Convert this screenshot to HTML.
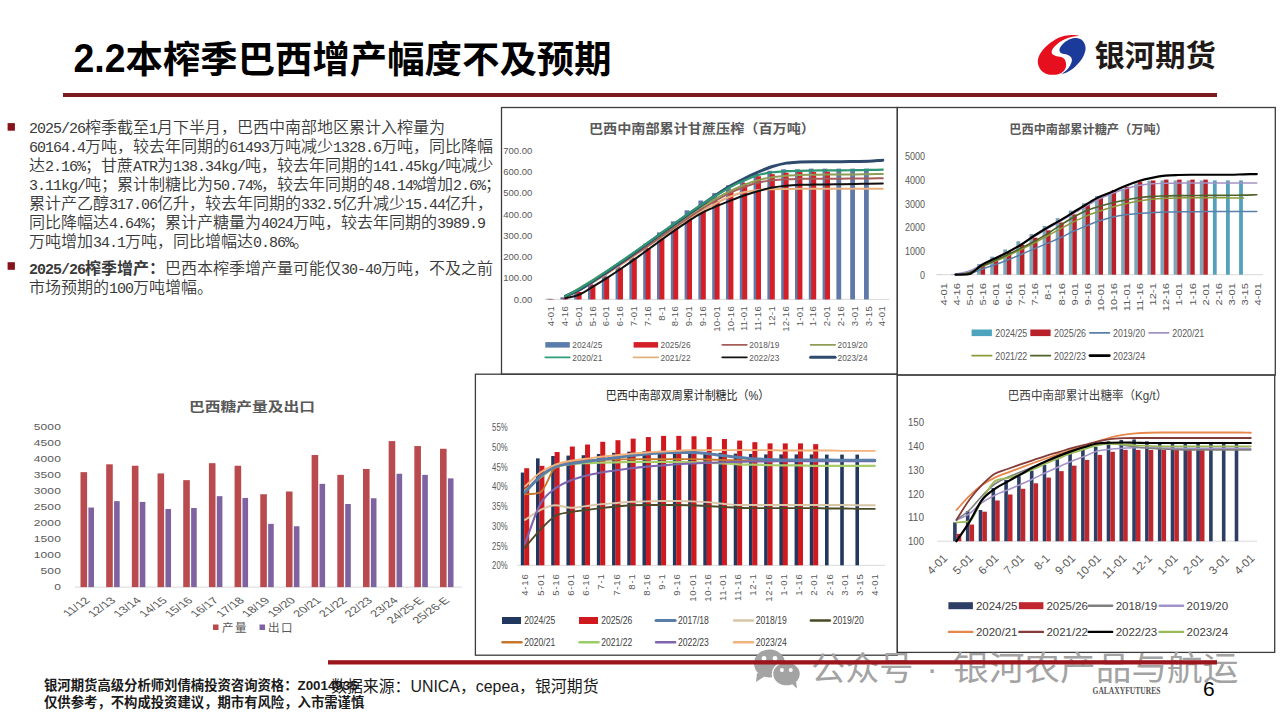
<!DOCTYPE html>
<html><head><meta charset="utf-8"><title>slide</title>
<style>
html,body{margin:0;padding:0;background:#fff;}
body{width:1280px;height:720px;position:relative;overflow:hidden;font-family:"Liberation Sans","Noto Sans CJK SC",sans-serif;}
.full{position:absolute;left:0;top:0;}
h1{position:absolute;left:73.5px;top:34px;margin:0;font-size:37.4px;font-weight:bold;color:#000;font-family:"Liberation Sans","Noto Sans CJK SC",sans-serif;letter-spacing:0px;white-space:nowrap;line-height:52px;}
.txt{position:absolute;left:29px;width:480px;font-size:16px;line-height:19.1px;color:#3a3a3a;font-family:"Liberation Sans","Noto Sans CJK SC",sans-serif;font-weight:350;white-space:nowrap;}
.txt b{font-weight:700;}
.txt .m{font-family:"Liberation Mono",monospace;font-size:15px;letter-spacing:-1px;line-height:19px;}
.txt div{height:19.0px;line-height:19.0px;}
.foot{position:absolute;left:44px;font-size:13.35px;font-weight:bold;color:#1a1a1a;font-family:"Liberation Sans","Noto Sans CJK SC",sans-serif;white-space:nowrap;}
.src{position:absolute;left:331px;top:674.4px;font-size:15.9px;color:#1a1a1a;font-family:"Liberation Sans","Noto Sans CJK SC",sans-serif;white-space:nowrap;}
</style></head><body>
<svg class="full" width="1280" height="720" viewBox="0 0 1280 720">
<rect x="63" y="93" width="1154" height="4" fill="#7d1a1f"/>
<g transform="translate(1030,30)"><path d="M49.90,5.80 C49.90,5.80 45.93,4.90 43.40,4.90 C40.87,4.90 37.72,5.05 34.70,5.80 C31.68,6.55 28.32,7.72 25.30,9.40 C22.28,11.08 19.13,13.50 16.60,15.90 C14.07,18.30 11.57,21.15 10.10,23.80 C8.63,26.45 7.80,29.27 7.80,31.80 C7.80,34.33 8.75,37.02 10.10,39.00 C11.45,40.98 13.62,42.73 15.90,43.70 C18.18,44.67 21.40,44.85 23.80,44.80 C26.20,44.75 28.48,44.25 30.30,43.40 C32.12,42.55 33.73,41.15 34.70,39.70 C35.67,38.25 36.10,36.38 36.10,34.70 C36.10,33.02 35.53,30.87 34.70,29.60 C33.87,28.33 32.67,27.75 31.10,27.10 C29.53,26.45 26.82,26.30 25.30,25.70 C23.78,25.10 22.48,24.53 22.00,23.50 C21.52,22.47 21.62,21.00 22.40,19.50 C23.18,18.00 24.90,16.07 26.70,14.50 C28.50,12.93 30.78,11.33 33.20,10.10 C35.62,8.87 38.42,7.82 41.20,7.10 C43.98,6.38 49.90,5.80 49.90,5.80Z" fill="#e60f1d"/><path d="M46.20,8.10 C48.23,8.40 51.13,9.13 52.70,10.80 C54.27,12.47 55.47,15.57 55.60,18.10 C55.73,20.63 54.58,23.60 53.50,26.00 C52.42,28.40 50.78,30.45 49.10,32.50 C47.42,34.55 45.32,36.73 43.40,38.30 C41.48,39.87 39.65,40.92 37.60,41.90 C35.55,42.88 31.10,44.20 31.10,44.20 C31.10,44.20 34.60,41.97 36.10,40.50 C37.60,39.03 39.13,37.10 40.10,35.40 C41.07,33.70 41.83,31.75 41.90,30.30 C41.97,28.85 41.35,27.65 40.50,26.70 C39.65,25.75 38.25,25.13 36.80,24.60 C35.35,24.07 33.00,24.10 31.80,23.50 C30.60,22.90 29.85,22.03 29.60,21.00 C29.35,19.97 29.45,18.75 30.30,17.30 C31.15,15.85 33.00,13.68 34.70,12.30 C36.40,10.92 38.58,9.70 40.50,9.00 C42.42,8.30 44.17,7.80 46.20,8.10Z" fill="#1c3a9a"/></g>
<text x="1094.50" y="65.60" font-size="29.6" fill="#1f1a17" text-anchor="start" font-weight="bold" font-family='"Liberation Sans","Noto Sans CJK SC",sans-serif' textLength="121.5" lengthAdjust="spacingAndGlyphs">银河期货</text>
<rect x="7.6" y="123.1" width="7.3" height="7.6" fill="#86131a"/>
<rect x="7.6" y="262.2" width="7.3" height="7.6" fill="#86131a"/>
<text x="589.00" y="133.00" font-size="13" fill="#595959" text-anchor="start" font-weight="bold" font-family='"Liberation Sans","Noto Sans CJK SC",sans-serif' textLength="226" lengthAdjust="spacingAndGlyphs">巴西中南部累计甘蔗压榨（百万吨）</text>
<text x="532.30" y="302.70" font-size="9.5" fill="#595959" text-anchor="end" font-weight="normal" font-family='"Liberation Sans","Noto Sans CJK SC",sans-serif' >0.00</text>
<text x="532.30" y="281.44" font-size="9.5" fill="#595959" text-anchor="end" font-weight="normal" font-family='"Liberation Sans","Noto Sans CJK SC",sans-serif' >100.00</text>
<text x="532.30" y="260.18" font-size="9.5" fill="#595959" text-anchor="end" font-weight="normal" font-family='"Liberation Sans","Noto Sans CJK SC",sans-serif' >200.00</text>
<text x="532.30" y="238.92" font-size="9.5" fill="#595959" text-anchor="end" font-weight="normal" font-family='"Liberation Sans","Noto Sans CJK SC",sans-serif' >300.00</text>
<text x="532.30" y="217.66" font-size="9.5" fill="#595959" text-anchor="end" font-weight="normal" font-family='"Liberation Sans","Noto Sans CJK SC",sans-serif' >400.00</text>
<text x="532.30" y="196.40" font-size="9.5" fill="#595959" text-anchor="end" font-weight="normal" font-family='"Liberation Sans","Noto Sans CJK SC",sans-serif' >500.00</text>
<text x="532.30" y="175.14" font-size="9.5" fill="#595959" text-anchor="end" font-weight="normal" font-family='"Liberation Sans","Noto Sans CJK SC",sans-serif' >600.00</text>
<text x="532.30" y="153.88" font-size="9.5" fill="#595959" text-anchor="end" font-weight="normal" font-family='"Liberation Sans","Noto Sans CJK SC",sans-serif' >700.00</text>
<line x1="544.7" y1="299.4" x2="889.5" y2="299.4" stroke="#d9d9d9" stroke-width="1"/>
<rect x="546.60" y="298.76" width="4.8" height="0.64" fill="#6179a8"/>
<rect x="560.40" y="297.27" width="4.8" height="2.13" fill="#6179a8"/>
<rect x="574.20" y="290.47" width="4.8" height="8.93" fill="#6179a8"/>
<rect x="588.00" y="282.39" width="4.8" height="17.01" fill="#6179a8"/>
<rect x="601.80" y="273.46" width="4.8" height="25.94" fill="#6179a8"/>
<rect x="615.60" y="264.32" width="4.8" height="35.08" fill="#6179a8"/>
<rect x="629.40" y="254.33" width="4.8" height="45.07" fill="#6179a8"/>
<rect x="643.20" y="243.70" width="4.8" height="55.70" fill="#6179a8"/>
<rect x="657.00" y="232.43" width="4.8" height="66.97" fill="#6179a8"/>
<rect x="670.80" y="221.38" width="4.8" height="78.02" fill="#6179a8"/>
<rect x="684.60" y="210.32" width="4.8" height="89.08" fill="#6179a8"/>
<rect x="698.40" y="200.54" width="4.8" height="98.86" fill="#6179a8"/>
<rect x="712.20" y="193.10" width="4.8" height="106.30" fill="#6179a8"/>
<rect x="726.00" y="185.23" width="4.8" height="114.17" fill="#6179a8"/>
<rect x="739.80" y="179.07" width="4.8" height="120.33" fill="#6179a8"/>
<rect x="753.60" y="173.97" width="4.8" height="125.43" fill="#6179a8"/>
<rect x="767.40" y="170.78" width="4.8" height="128.62" fill="#6179a8"/>
<rect x="781.20" y="169.29" width="4.8" height="130.11" fill="#6179a8"/>
<rect x="795.00" y="169.29" width="4.8" height="130.11" fill="#6179a8"/>
<rect x="808.80" y="168.65" width="4.8" height="130.75" fill="#6179a8"/>
<rect x="822.60" y="168.65" width="4.8" height="130.75" fill="#6179a8"/>
<rect x="836.40" y="168.65" width="4.8" height="130.75" fill="#6179a8"/>
<rect x="850.20" y="168.65" width="4.8" height="130.75" fill="#6179a8"/>
<rect x="864.00" y="168.65" width="4.8" height="130.75" fill="#6179a8"/>
<rect x="549.10" y="298.97" width="4.9" height="0.43" fill="#d41f26"/>
<rect x="562.90" y="298.34" width="4.9" height="1.06" fill="#d41f26"/>
<rect x="576.70" y="291.96" width="4.9" height="7.44" fill="#d41f26"/>
<rect x="590.50" y="284.73" width="4.9" height="14.67" fill="#d41f26"/>
<rect x="604.30" y="277.08" width="4.9" height="22.32" fill="#d41f26"/>
<rect x="618.10" y="268.15" width="4.9" height="31.25" fill="#d41f26"/>
<rect x="631.90" y="258.37" width="4.9" height="41.03" fill="#d41f26"/>
<rect x="645.70" y="248.16" width="4.9" height="51.24" fill="#d41f26"/>
<rect x="659.50" y="237.75" width="4.9" height="61.65" fill="#d41f26"/>
<rect x="673.30" y="227.12" width="4.9" height="72.28" fill="#d41f26"/>
<rect x="687.10" y="217.12" width="4.9" height="82.28" fill="#d41f26"/>
<rect x="700.90" y="210.32" width="4.9" height="89.08" fill="#d41f26"/>
<rect x="714.70" y="201.18" width="4.9" height="98.22" fill="#d41f26"/>
<rect x="728.50" y="190.76" width="4.9" height="108.64" fill="#d41f26"/>
<rect x="742.30" y="183.11" width="4.9" height="116.29" fill="#d41f26"/>
<rect x="756.10" y="176.30" width="4.9" height="123.10" fill="#d41f26"/>
<rect x="769.90" y="174.18" width="4.9" height="125.22" fill="#d41f26"/>
<rect x="783.70" y="172.69" width="4.9" height="126.71" fill="#d41f26"/>
<rect x="797.50" y="172.05" width="4.9" height="127.35" fill="#d41f26"/>
<rect x="811.30" y="172.05" width="4.9" height="127.35" fill="#d41f26"/>
<rect x="825.10" y="171.63" width="4.9" height="127.77" fill="#d41f26"/>
<path d="M565.40,297.27 C570.00,295.01 574.60,292.95 579.20,290.47 C583.80,287.99 588.40,285.16 593.00,282.39 C597.60,279.63 602.20,276.79 606.80,273.89 C611.40,270.98 616.00,267.97 620.60,264.96 C625.20,261.95 629.80,258.94 634.40,255.82 C639.00,252.70 643.60,249.44 648.20,246.25 C652.80,243.06 657.40,239.87 662.00,236.68 C666.60,233.49 671.20,230.23 675.80,227.12 C680.40,224.00 685.00,220.81 689.60,217.97 C694.20,215.14 698.80,212.66 703.40,210.11 C708.00,207.56 712.60,204.97 717.20,202.67 C721.80,200.36 726.40,198.06 731.00,196.29 C735.60,194.52 740.20,193.10 744.80,192.04 C749.40,190.97 754.00,190.37 758.60,189.91 C763.20,189.45 767.80,189.41 772.40,189.27 C777.00,189.13 781.60,189.13 786.20,189.06 C790.80,188.99 795.40,188.85 800.00,188.85 C804.60,188.85 809.20,188.85 813.80,188.85 C818.40,188.85 823.00,188.85 827.60,188.85 C832.20,188.85 836.80,188.85 841.40,188.85 C846.00,188.85 850.60,188.85 855.20,188.85 C859.80,188.85 864.40,188.85 869.00,188.85 C873.60,188.85 878.20,188.85 882.80,188.85" fill="none" stroke="#e6b07e" stroke-width="2" stroke-linejoin="round" stroke-linecap="round" />
<path d="M565.40,296.85 C570.00,294.51 574.60,292.42 579.20,289.83 C583.80,287.25 588.40,284.16 593.00,281.33 C597.60,278.49 602.20,275.73 606.80,272.82 C611.40,269.92 616.00,266.91 620.60,263.90 C625.20,260.88 629.80,257.80 634.40,254.75 C639.00,251.71 643.60,248.73 648.20,245.61 C652.80,242.49 657.40,239.23 662.00,236.05 C666.60,232.86 671.20,229.67 675.80,226.48 C680.40,223.29 685.00,219.99 689.60,216.91 C694.20,213.83 698.80,210.82 703.40,207.98 C708.00,205.15 712.60,202.49 717.20,199.90 C721.80,197.32 726.40,194.66 731.00,192.46 C735.60,190.27 740.20,188.39 744.80,186.72 C749.40,185.06 754.00,183.53 758.60,182.47 C763.20,181.41 767.80,180.88 772.40,180.34 C777.00,179.81 781.60,179.53 786.20,179.28 C790.80,179.03 795.40,178.96 800.00,178.86 C804.60,178.75 809.20,178.64 813.80,178.64 C818.40,178.64 823.00,178.64 827.60,178.64 C832.20,178.64 836.80,178.64 841.40,178.64 C846.00,178.64 850.60,178.43 855.20,178.43 C859.80,178.43 864.40,178.43 869.00,178.43 C873.60,178.43 878.20,178.29 882.80,178.22" fill="none" stroke="#a65c58" stroke-width="2" stroke-linejoin="round" stroke-linecap="round" />
<path d="M565.40,296.21 C570.00,293.59 574.60,291.07 579.20,288.34 C583.80,285.62 588.40,282.71 593.00,279.84 C597.60,276.97 602.20,274.07 606.80,271.12 C611.40,268.18 616.00,265.21 620.60,262.19 C625.20,259.18 629.80,256.14 634.40,253.05 C639.00,249.97 643.60,246.85 648.20,243.70 C652.80,240.55 657.40,237.32 662.00,234.13 C666.60,230.94 671.20,227.79 675.80,224.56 C680.40,221.34 685.00,217.90 689.60,214.79 C694.20,211.67 698.80,208.69 703.40,205.86 C708.00,203.02 712.60,200.33 717.20,197.78 C721.80,195.23 726.40,192.75 731.00,190.55 C735.60,188.35 740.20,186.37 744.80,184.60 C749.40,182.82 754.00,181.16 758.60,179.92 C763.20,178.68 767.80,177.86 772.40,177.15 C777.00,176.45 781.60,176.02 786.20,175.67 C790.80,175.31 795.40,175.17 800.00,175.03 C804.60,174.89 809.20,174.89 813.80,174.82 C818.40,174.75 823.00,174.60 827.60,174.60 C832.20,174.60 836.80,174.60 841.40,174.60 C846.00,174.60 850.60,174.46 855.20,174.39 C859.80,174.32 864.40,174.25 869.00,174.18 C873.60,174.11 878.20,174.04 882.80,173.97" fill="none" stroke="#8e9d55" stroke-width="2" stroke-linejoin="round" stroke-linecap="round" />
<path d="M565.40,296.21 C570.00,294.08 574.60,292.31 579.20,289.83 C583.80,287.35 588.40,284.27 593.00,281.33 C597.60,278.39 602.20,275.27 606.80,272.19 C611.40,269.10 616.00,266.02 620.60,262.83 C625.20,259.64 629.80,256.35 634.40,253.05 C639.00,249.76 643.60,246.39 648.20,243.06 C652.80,239.73 657.40,236.36 662.00,233.07 C666.60,229.77 671.20,226.58 675.80,223.29 C680.40,219.99 685.00,216.56 689.60,213.30 C694.20,210.04 698.80,206.92 703.40,203.73 C708.00,200.54 712.60,197.17 717.20,194.16 C721.80,191.15 726.40,188.32 731.00,185.66 C735.60,183.00 740.20,180.52 744.80,178.22 C749.40,175.91 754.00,173.79 758.60,171.84 C763.20,169.89 767.80,167.98 772.40,166.52 C777.00,165.07 781.60,163.87 786.20,163.12 C790.80,162.38 795.40,162.31 800.00,162.06 C804.60,161.81 809.20,161.64 813.80,161.64 C818.40,161.64 823.00,161.64 827.60,161.64 C832.20,161.64 836.80,161.64 841.40,161.64 C846.00,161.64 850.60,161.49 855.20,161.42 C859.80,161.36 864.40,161.41 869.00,161.21 C873.60,161.01 878.20,160.50 882.80,160.15" fill="none" stroke="#2e4a6c" stroke-width="3" stroke-linejoin="round" stroke-linecap="round" />
<path d="M565.40,296.21 C570.00,293.73 574.60,291.43 579.20,288.77 C583.80,286.11 588.40,283.21 593.00,280.27 C597.60,277.33 602.20,274.21 606.80,271.12 C611.40,268.04 616.00,264.92 620.60,261.77 C625.20,258.62 629.80,255.43 634.40,252.20 C639.00,248.98 643.60,245.72 648.20,242.42 C652.80,239.13 657.40,235.76 662.00,232.43 C666.60,229.10 671.20,225.73 675.80,222.44 C680.40,219.14 685.00,215.85 689.60,212.66 C694.20,209.47 698.80,206.28 703.40,203.30 C708.00,200.33 712.60,197.56 717.20,194.80 C721.80,192.04 726.40,189.13 731.00,186.72 C735.60,184.31 740.20,182.29 744.80,180.34 C749.40,178.40 754.00,176.38 758.60,175.03 C763.20,173.68 767.80,172.90 772.40,172.27 C777.00,171.63 781.60,171.45 786.20,171.20 C790.80,170.95 795.40,170.88 800.00,170.78 C804.60,170.67 809.20,170.64 813.80,170.56 C818.40,170.49 823.00,170.35 827.60,170.35 C832.20,170.35 836.80,170.35 841.40,170.35 C846.00,170.35 850.60,170.21 855.20,170.14 C859.80,170.07 864.40,170.00 869.00,169.93 C873.60,169.86 878.20,169.78 882.80,169.71" fill="none" stroke="#2f9675" stroke-width="2.2" stroke-linejoin="round" stroke-linecap="round" />
<path d="M565.40,298.34 C570.00,297.13 574.60,296.67 579.20,294.72 C583.80,292.77 588.40,289.41 593.00,286.64 C597.60,283.88 602.20,281.08 606.80,278.14 C611.40,275.20 616.00,272.12 620.60,269.00 C625.20,265.88 629.80,262.69 634.40,259.43 C639.00,256.17 643.60,252.77 648.20,249.44 C652.80,246.11 657.40,242.74 662.00,239.45 C666.60,236.15 671.20,232.86 675.80,229.67 C680.40,226.48 685.00,223.22 689.60,220.31 C694.20,217.41 698.80,214.64 703.40,212.23 C708.00,209.82 712.60,207.84 717.20,205.86 C721.80,203.87 726.40,202.10 731.00,200.33 C735.60,198.56 740.20,196.79 744.80,195.23 C749.40,193.67 754.00,192.25 758.60,190.97 C763.20,189.70 767.80,188.46 772.40,187.57 C777.00,186.69 781.60,186.12 786.20,185.66 C790.80,185.20 795.40,184.99 800.00,184.81 C804.60,184.63 809.20,184.67 813.80,184.60 C818.40,184.53 823.00,184.45 827.60,184.38 C832.20,184.31 836.80,184.24 841.40,184.17 C846.00,184.10 850.60,184.03 855.20,183.96 C859.80,183.89 864.40,183.82 869.00,183.75 C873.60,183.67 878.20,183.60 882.80,183.53" fill="none" stroke="#111111" stroke-width="2" stroke-linejoin="round" stroke-linecap="round" />
<text x="0.00" y="0.00" font-size="9.5" fill="#595959" text-anchor="end" font-weight="normal" font-family='"Liberation Sans","Noto Sans CJK SC",sans-serif' transform="translate(554.10,306) rotate(-90)" letter-spacing="0.3">4-01</text>
<text x="0.00" y="0.00" font-size="9.5" fill="#595959" text-anchor="end" font-weight="normal" font-family='"Liberation Sans","Noto Sans CJK SC",sans-serif' transform="translate(567.90,306) rotate(-90)" letter-spacing="0.3">4-16</text>
<text x="0.00" y="0.00" font-size="9.5" fill="#595959" text-anchor="end" font-weight="normal" font-family='"Liberation Sans","Noto Sans CJK SC",sans-serif' transform="translate(581.70,306) rotate(-90)" letter-spacing="0.3">5-01</text>
<text x="0.00" y="0.00" font-size="9.5" fill="#595959" text-anchor="end" font-weight="normal" font-family='"Liberation Sans","Noto Sans CJK SC",sans-serif' transform="translate(595.50,306) rotate(-90)" letter-spacing="0.3">5-16</text>
<text x="0.00" y="0.00" font-size="9.5" fill="#595959" text-anchor="end" font-weight="normal" font-family='"Liberation Sans","Noto Sans CJK SC",sans-serif' transform="translate(609.30,306) rotate(-90)" letter-spacing="0.3">6-01</text>
<text x="0.00" y="0.00" font-size="9.5" fill="#595959" text-anchor="end" font-weight="normal" font-family='"Liberation Sans","Noto Sans CJK SC",sans-serif' transform="translate(623.10,306) rotate(-90)" letter-spacing="0.3">6-16</text>
<text x="0.00" y="0.00" font-size="9.5" fill="#595959" text-anchor="end" font-weight="normal" font-family='"Liberation Sans","Noto Sans CJK SC",sans-serif' transform="translate(636.90,306) rotate(-90)" letter-spacing="0.3">7-01</text>
<text x="0.00" y="0.00" font-size="9.5" fill="#595959" text-anchor="end" font-weight="normal" font-family='"Liberation Sans","Noto Sans CJK SC",sans-serif' transform="translate(650.70,306) rotate(-90)" letter-spacing="0.3">7-16</text>
<text x="0.00" y="0.00" font-size="9.5" fill="#595959" text-anchor="end" font-weight="normal" font-family='"Liberation Sans","Noto Sans CJK SC",sans-serif' transform="translate(664.50,306) rotate(-90)" letter-spacing="0.3">8-1</text>
<text x="0.00" y="0.00" font-size="9.5" fill="#595959" text-anchor="end" font-weight="normal" font-family='"Liberation Sans","Noto Sans CJK SC",sans-serif' transform="translate(678.30,306) rotate(-90)" letter-spacing="0.3">8-16</text>
<text x="0.00" y="0.00" font-size="9.5" fill="#595959" text-anchor="end" font-weight="normal" font-family='"Liberation Sans","Noto Sans CJK SC",sans-serif' transform="translate(692.10,306) rotate(-90)" letter-spacing="0.3">9-01</text>
<text x="0.00" y="0.00" font-size="9.5" fill="#595959" text-anchor="end" font-weight="normal" font-family='"Liberation Sans","Noto Sans CJK SC",sans-serif' transform="translate(705.90,306) rotate(-90)" letter-spacing="0.3">9-16</text>
<text x="0.00" y="0.00" font-size="9.5" fill="#595959" text-anchor="end" font-weight="normal" font-family='"Liberation Sans","Noto Sans CJK SC",sans-serif' transform="translate(719.70,306) rotate(-90)" letter-spacing="0.3">10-01</text>
<text x="0.00" y="0.00" font-size="9.5" fill="#595959" text-anchor="end" font-weight="normal" font-family='"Liberation Sans","Noto Sans CJK SC",sans-serif' transform="translate(733.50,306) rotate(-90)" letter-spacing="0.3">10-16</text>
<text x="0.00" y="0.00" font-size="9.5" fill="#595959" text-anchor="end" font-weight="normal" font-family='"Liberation Sans","Noto Sans CJK SC",sans-serif' transform="translate(747.30,306) rotate(-90)" letter-spacing="0.3">11-01</text>
<text x="0.00" y="0.00" font-size="9.5" fill="#595959" text-anchor="end" font-weight="normal" font-family='"Liberation Sans","Noto Sans CJK SC",sans-serif' transform="translate(761.10,306) rotate(-90)" letter-spacing="0.3">11-16</text>
<text x="0.00" y="0.00" font-size="9.5" fill="#595959" text-anchor="end" font-weight="normal" font-family='"Liberation Sans","Noto Sans CJK SC",sans-serif' transform="translate(774.90,306) rotate(-90)" letter-spacing="0.3">12-1</text>
<text x="0.00" y="0.00" font-size="9.5" fill="#595959" text-anchor="end" font-weight="normal" font-family='"Liberation Sans","Noto Sans CJK SC",sans-serif' transform="translate(788.70,306) rotate(-90)" letter-spacing="0.3">12-16</text>
<text x="0.00" y="0.00" font-size="9.5" fill="#595959" text-anchor="end" font-weight="normal" font-family='"Liberation Sans","Noto Sans CJK SC",sans-serif' transform="translate(802.50,306) rotate(-90)" letter-spacing="0.3">1-01</text>
<text x="0.00" y="0.00" font-size="9.5" fill="#595959" text-anchor="end" font-weight="normal" font-family='"Liberation Sans","Noto Sans CJK SC",sans-serif' transform="translate(816.30,306) rotate(-90)" letter-spacing="0.3">1-16</text>
<text x="0.00" y="0.00" font-size="9.5" fill="#595959" text-anchor="end" font-weight="normal" font-family='"Liberation Sans","Noto Sans CJK SC",sans-serif' transform="translate(830.10,306) rotate(-90)" letter-spacing="0.3">2-01</text>
<text x="0.00" y="0.00" font-size="9.5" fill="#595959" text-anchor="end" font-weight="normal" font-family='"Liberation Sans","Noto Sans CJK SC",sans-serif' transform="translate(843.90,306) rotate(-90)" letter-spacing="0.3">2-16</text>
<text x="0.00" y="0.00" font-size="9.5" fill="#595959" text-anchor="end" font-weight="normal" font-family='"Liberation Sans","Noto Sans CJK SC",sans-serif' transform="translate(857.70,306) rotate(-90)" letter-spacing="0.3">3-01</text>
<text x="0.00" y="0.00" font-size="9.5" fill="#595959" text-anchor="end" font-weight="normal" font-family='"Liberation Sans","Noto Sans CJK SC",sans-serif' transform="translate(871.50,306) rotate(-90)" letter-spacing="0.3">3-15</text>
<text x="0.00" y="0.00" font-size="9.5" fill="#595959" text-anchor="end" font-weight="normal" font-family='"Liberation Sans","Noto Sans CJK SC",sans-serif' transform="translate(885.30,306) rotate(-90)" letter-spacing="0.3">4-01</text>
<rect x="545.3" y="342.1" width="24.5" height="5.5" fill="#5b7dab"/>
<text x="572.30" y="348.00" font-size="9" fill="#595959" text-anchor="start" font-weight="normal" font-family='"Liberation Sans","Noto Sans CJK SC",sans-serif' textLength="30" lengthAdjust="spacingAndGlyphs">2024/25</text>
<rect x="633.6" y="342.1" width="24.5" height="5.5" fill="#d41f26"/>
<text x="660.60" y="348.00" font-size="9" fill="#595959" text-anchor="start" font-weight="normal" font-family='"Liberation Sans","Noto Sans CJK SC",sans-serif' textLength="30" lengthAdjust="spacingAndGlyphs">2025/26</text>
<line x1="722.3" y1="344.8" x2="746.8" y2="344.8" stroke="#a65c58" stroke-width="1.8" stroke-linecap="round"/>
<text x="749.30" y="348.00" font-size="9" fill="#595959" text-anchor="start" font-weight="normal" font-family='"Liberation Sans","Noto Sans CJK SC",sans-serif' textLength="30" lengthAdjust="spacingAndGlyphs">2018/19</text>
<line x1="810.6" y1="344.8" x2="835.1" y2="344.8" stroke="#8e9d55" stroke-width="1.8" stroke-linecap="round"/>
<text x="837.60" y="348.00" font-size="9" fill="#595959" text-anchor="start" font-weight="normal" font-family='"Liberation Sans","Noto Sans CJK SC",sans-serif' textLength="30" lengthAdjust="spacingAndGlyphs">2019/20</text>
<line x1="545.3" y1="357.3" x2="569.8" y2="357.3" stroke="#2f9f78" stroke-width="1.8" stroke-linecap="round"/>
<text x="572.30" y="360.50" font-size="9" fill="#595959" text-anchor="start" font-weight="normal" font-family='"Liberation Sans","Noto Sans CJK SC",sans-serif' textLength="30" lengthAdjust="spacingAndGlyphs">2020/21</text>
<line x1="633.6" y1="357.3" x2="658.1" y2="357.3" stroke="#e6b07e" stroke-width="1.8" stroke-linecap="round"/>
<text x="660.60" y="360.50" font-size="9" fill="#595959" text-anchor="start" font-weight="normal" font-family='"Liberation Sans","Noto Sans CJK SC",sans-serif' textLength="30" lengthAdjust="spacingAndGlyphs">2021/22</text>
<line x1="722.3" y1="357.3" x2="746.8" y2="357.3" stroke="#111111" stroke-width="1.8" stroke-linecap="round"/>
<text x="749.30" y="360.50" font-size="9" fill="#595959" text-anchor="start" font-weight="normal" font-family='"Liberation Sans","Noto Sans CJK SC",sans-serif' textLength="30" lengthAdjust="spacingAndGlyphs">2022/23</text>
<line x1="810.6" y1="357.3" x2="835.1" y2="357.3" stroke="#2e4a6c" stroke-width="3" stroke-linecap="round"/>
<text x="837.60" y="360.50" font-size="9" fill="#595959" text-anchor="start" font-weight="normal" font-family='"Liberation Sans","Noto Sans CJK SC",sans-serif' textLength="30" lengthAdjust="spacingAndGlyphs">2023/24</text>
<text x="1009.30" y="133.80" font-size="12.5" fill="#595959" text-anchor="start" font-weight="bold" font-family='"Liberation Sans","Noto Sans CJK SC",sans-serif' textLength="158.5" lengthAdjust="spacingAndGlyphs">巴西中南部累计糖产（万吨）</text>
<text x="925.00" y="278.90" font-size="10.5" fill="#595959" text-anchor="end" font-weight="normal" font-family='"Liberation Sans","Noto Sans CJK SC",sans-serif' textLength="5.0" lengthAdjust="spacingAndGlyphs">0</text>
<text x="925.00" y="255.16" font-size="10.5" fill="#595959" text-anchor="end" font-weight="normal" font-family='"Liberation Sans","Noto Sans CJK SC",sans-serif' textLength="20.0" lengthAdjust="spacingAndGlyphs">1000</text>
<text x="925.00" y="231.42" font-size="10.5" fill="#595959" text-anchor="end" font-weight="normal" font-family='"Liberation Sans","Noto Sans CJK SC",sans-serif' textLength="20.0" lengthAdjust="spacingAndGlyphs">2000</text>
<text x="925.00" y="207.68" font-size="10.5" fill="#595959" text-anchor="end" font-weight="normal" font-family='"Liberation Sans","Noto Sans CJK SC",sans-serif' textLength="20.0" lengthAdjust="spacingAndGlyphs">3000</text>
<text x="925.00" y="183.94" font-size="10.5" fill="#595959" text-anchor="end" font-weight="normal" font-family='"Liberation Sans","Noto Sans CJK SC",sans-serif' textLength="20.0" lengthAdjust="spacingAndGlyphs">4000</text>
<text x="925.00" y="160.20" font-size="10.5" fill="#595959" text-anchor="end" font-weight="normal" font-family='"Liberation Sans","Noto Sans CJK SC",sans-serif' textLength="20.0" lengthAdjust="spacingAndGlyphs">5000</text>
<line x1="935.8" y1="274.7" x2="1263" y2="274.7" stroke="#d9d9d9" stroke-width="1"/>
<rect x="937.80" y="274.46" width="3.8" height="0.24" fill="#7ea6b9"/>
<rect x="950.90" y="274.23" width="3.8" height="0.47" fill="#7ea6b9"/>
<rect x="964.00" y="272.33" width="3.8" height="2.37" fill="#7ea6b9"/>
<rect x="977.10" y="264.02" width="3.8" height="10.68" fill="#7ea6b9"/>
<rect x="990.20" y="256.66" width="3.8" height="18.04" fill="#7ea6b9"/>
<rect x="1003.30" y="249.39" width="3.8" height="25.31" fill="#7ea6b9"/>
<rect x="1016.40" y="241.20" width="3.8" height="33.50" fill="#7ea6b9"/>
<rect x="1029.50" y="234.01" width="3.8" height="40.69" fill="#7ea6b9"/>
<rect x="1042.60" y="225.91" width="3.8" height="48.79" fill="#7ea6b9"/>
<rect x="1055.70" y="218.10" width="3.8" height="56.60" fill="#7ea6b9"/>
<rect x="1068.80" y="210.51" width="3.8" height="64.19" fill="#7ea6b9"/>
<rect x="1081.90" y="203.29" width="3.8" height="71.41" fill="#7ea6b9"/>
<rect x="1095.00" y="196.10" width="3.8" height="78.60" fill="#7ea6b9"/>
<rect x="1108.10" y="192.49" width="3.8" height="82.21" fill="#7ea6b9"/>
<rect x="1121.20" y="188.93" width="3.8" height="85.77" fill="#7ea6b9"/>
<rect x="1134.30" y="183.30" width="3.8" height="91.40" fill="#7ea6b9"/>
<rect x="1147.40" y="180.69" width="3.8" height="94.01" fill="#7ea6b9"/>
<rect x="1160.50" y="180.45" width="3.8" height="94.25" fill="#7ea6b9"/>
<rect x="1173.60" y="180.45" width="3.8" height="94.25" fill="#7ea6b9"/>
<rect x="1186.70" y="180.45" width="3.8" height="94.25" fill="#7ea6b9"/>
<rect x="1199.80" y="180.45" width="3.8" height="94.25" fill="#7ea6b9"/>
<rect x="1212.90" y="180.45" width="3.8" height="94.25" fill="#55a1bb"/>
<rect x="1226.00" y="180.45" width="3.8" height="94.25" fill="#55a1bb"/>
<rect x="1239.10" y="180.45" width="3.8" height="94.25" fill="#55a1bb"/>
<rect x="941.40" y="274.70" width="4.4" height="0.00" fill="#b8202a"/>
<rect x="954.50" y="274.34" width="4.4" height="0.36" fill="#b8202a"/>
<rect x="967.60" y="273.28" width="4.4" height="1.42" fill="#b8202a"/>
<rect x="980.70" y="265.80" width="4.4" height="8.90" fill="#b8202a"/>
<rect x="993.80" y="258.56" width="4.4" height="16.14" fill="#b8202a"/>
<rect x="1006.90" y="252.15" width="4.4" height="22.55" fill="#b8202a"/>
<rect x="1020.00" y="244.79" width="4.4" height="29.91" fill="#b8202a"/>
<rect x="1033.10" y="237.67" width="4.4" height="37.03" fill="#b8202a"/>
<rect x="1046.20" y="230.31" width="4.4" height="44.39" fill="#b8202a"/>
<rect x="1059.30" y="222.47" width="4.4" height="52.23" fill="#b8202a"/>
<rect x="1072.40" y="214.40" width="4.4" height="60.30" fill="#b8202a"/>
<rect x="1085.50" y="204.43" width="4.4" height="70.27" fill="#b8202a"/>
<rect x="1098.60" y="197.07" width="4.4" height="77.63" fill="#b8202a"/>
<rect x="1111.70" y="189.95" width="4.4" height="84.75" fill="#b8202a"/>
<rect x="1124.80" y="186.70" width="4.4" height="88.00" fill="#b8202a"/>
<rect x="1137.90" y="181.64" width="4.4" height="93.06" fill="#b8202a"/>
<rect x="1151.00" y="180.45" width="4.4" height="94.25" fill="#b8202a"/>
<rect x="1164.10" y="179.60" width="4.4" height="95.10" fill="#b8202a"/>
<rect x="1177.20" y="179.60" width="4.4" height="95.10" fill="#b8202a"/>
<rect x="1190.30" y="179.60" width="4.4" height="95.10" fill="#b8202a"/>
<rect x="1203.40" y="179.60" width="4.4" height="95.10" fill="#b8202a"/>
<path d="M955.50,274.46 C959.87,274.28 964.23,274.44 968.60,273.75 C972.97,273.06 977.33,270.74 981.70,269.24 C986.07,267.74 990.43,266.27 994.80,264.73 C999.17,263.19 1003.53,261.68 1007.90,259.98 C1012.27,258.28 1016.63,256.38 1021.00,254.52 C1025.37,252.66 1029.73,250.68 1034.10,248.82 C1038.47,246.96 1042.83,245.20 1047.20,243.36 C1051.57,241.52 1055.93,239.80 1060.30,237.78 C1064.67,235.77 1069.03,233.25 1073.40,231.26 C1077.77,229.26 1082.13,227.54 1086.50,225.80 C1090.87,224.05 1095.23,222.27 1099.60,220.81 C1103.97,219.35 1108.33,218.04 1112.70,217.01 C1117.07,215.98 1121.43,215.22 1125.80,214.64 C1130.17,214.05 1134.53,213.81 1138.90,213.50 C1143.27,213.18 1147.63,212.97 1152.00,212.74 C1156.37,212.51 1160.73,212.26 1165.10,212.10 C1169.47,211.94 1173.83,211.86 1178.20,211.79 C1182.57,211.72 1186.93,211.70 1191.30,211.67 C1195.67,211.64 1200.03,211.62 1204.40,211.60 C1208.77,211.58 1213.13,211.55 1217.50,211.55 C1221.87,211.55 1226.23,211.55 1230.60,211.55 C1234.97,211.55 1239.33,211.54 1243.70,211.53 C1248.07,211.52 1252.43,211.51 1256.80,211.50" fill="none" stroke="#5a80aa" stroke-width="1.5" stroke-linejoin="round" stroke-linecap="round" />
<path d="M955.50,274.46 C959.87,273.91 964.23,274.07 968.60,272.80 C972.97,271.53 977.33,268.76 981.70,266.87 C986.07,264.97 990.43,263.27 994.80,261.41 C999.17,259.55 1003.53,257.69 1007.90,255.71 C1012.27,253.73 1016.63,251.63 1021.00,249.54 C1025.37,247.44 1029.73,245.38 1034.10,243.13 C1038.47,240.87 1042.83,238.38 1047.20,236.00 C1051.57,233.63 1055.93,231.22 1060.30,228.88 C1064.67,226.55 1069.03,224.17 1073.40,222.00 C1077.77,219.82 1082.13,217.64 1086.50,215.82 C1090.87,214.00 1095.23,212.54 1099.60,211.08 C1103.97,209.61 1108.33,208.27 1112.70,207.04 C1117.07,205.81 1121.43,204.71 1125.80,203.72 C1130.17,202.73 1134.53,201.86 1138.90,201.11 C1143.27,200.35 1147.63,199.68 1152.00,199.21 C1156.37,198.73 1160.73,198.47 1165.10,198.26 C1169.47,198.04 1173.83,197.98 1178.20,197.90 C1182.57,197.82 1186.93,197.78 1191.30,197.78 C1195.67,197.78 1200.03,197.78 1204.40,197.78 C1208.77,197.78 1213.13,197.81 1217.50,197.83 C1221.87,197.85 1226.23,197.87 1230.60,197.88 C1234.97,197.89 1239.33,197.89 1243.70,197.90" fill="none" stroke="#8c9c3c" stroke-width="1.5" stroke-linejoin="round" stroke-linecap="round" />
<path d="M955.50,274.46 C959.87,273.83 964.23,273.91 968.60,272.56 C972.97,271.22 977.33,268.41 981.70,266.39 C986.07,264.37 990.43,262.43 994.80,260.46 C999.17,258.48 1003.53,256.58 1007.90,254.52 C1012.27,252.46 1016.63,250.29 1021.00,248.11 C1025.37,245.94 1029.73,243.84 1034.10,241.46 C1038.47,239.09 1042.83,236.56 1047.20,233.87 C1051.57,231.18 1055.93,228.09 1060.30,225.32 C1064.67,222.55 1069.03,219.70 1073.40,217.25 C1077.77,214.80 1082.13,212.42 1086.50,210.60 C1090.87,208.78 1095.23,207.63 1099.60,206.33 C1103.97,205.02 1108.33,203.84 1112.70,202.77 C1117.07,201.70 1121.43,200.75 1125.80,199.92 C1130.17,199.09 1134.53,198.38 1138.90,197.78 C1143.27,197.19 1147.63,196.67 1152.00,196.36 C1156.37,196.04 1160.73,196.00 1165.10,195.88 C1169.47,195.76 1173.83,195.71 1178.20,195.65 C1182.57,195.59 1186.93,195.57 1191.30,195.53 C1195.67,195.49 1200.03,195.44 1204.40,195.41 C1208.77,195.38 1213.13,195.38 1217.50,195.36 C1221.87,195.34 1226.23,195.32 1230.60,195.29 C1234.97,195.26 1239.33,195.25 1243.70,195.17 C1248.07,195.09 1252.43,194.92 1256.80,194.79" fill="none" stroke="#4f6228" stroke-width="1.6" stroke-linejoin="round" stroke-linecap="round" />
<path d="M955.50,273.99 C959.87,273.04 964.23,272.68 968.60,271.14 C972.97,269.60 977.33,266.91 981.70,264.73 C986.07,262.55 990.43,260.26 994.80,258.08 C999.17,255.91 1003.53,253.93 1007.90,251.67 C1012.27,249.42 1016.63,247.04 1021.00,244.55 C1025.37,242.06 1029.73,239.33 1034.10,236.72 C1038.47,234.10 1042.83,231.45 1047.20,228.88 C1051.57,226.31 1055.93,223.86 1060.30,221.28 C1064.67,218.71 1069.03,216.02 1073.40,213.45 C1077.77,210.88 1082.13,208.31 1086.50,205.85 C1090.87,203.40 1095.23,200.83 1099.60,198.73 C1103.97,196.63 1108.33,194.93 1112.70,193.27 C1117.07,191.61 1121.43,190.07 1125.80,188.76 C1130.17,187.46 1134.53,186.27 1138.90,185.44 C1143.27,184.61 1147.63,184.13 1152.00,183.78 C1156.37,183.42 1160.73,183.42 1165.10,183.30 C1169.47,183.18 1173.83,183.11 1178.20,183.06 C1182.57,183.02 1186.93,183.03 1191.30,183.02 C1195.67,183.00 1200.03,182.98 1204.40,182.97 C1208.77,182.96 1213.13,182.95 1217.50,182.94 C1221.87,182.94 1226.23,182.93 1230.60,182.92 C1234.97,182.91 1239.33,182.90 1243.70,182.90 C1248.07,182.90 1252.43,182.90 1256.80,182.90" fill="none" stroke="#a392c4" stroke-width="1.5" stroke-linejoin="round" stroke-linecap="round" />
<path d="M955.50,274.70 C959.87,274.65 964.23,274.70 968.60,274.23 C972.97,273.75 977.33,267.58 981.70,264.97 C986.07,262.36 990.43,260.69 994.80,258.56 C999.17,256.42 1003.53,254.44 1007.90,252.15 C1012.27,249.85 1016.63,247.52 1021.00,244.79 C1025.37,242.06 1029.73,238.62 1034.10,235.77 C1038.47,232.92 1042.83,230.27 1047.20,227.69 C1051.57,225.12 1055.93,222.91 1060.30,220.34 C1064.67,217.76 1069.03,214.95 1073.40,212.26 C1077.77,209.57 1082.13,206.76 1086.50,204.19 C1090.87,201.62 1095.23,198.93 1099.60,196.83 C1103.97,194.74 1108.33,193.47 1112.70,191.61 C1117.07,189.75 1121.43,187.46 1125.80,185.67 C1130.17,183.89 1134.53,182.23 1138.90,180.93 C1143.27,179.62 1147.63,178.71 1152.00,177.84 C1156.37,176.97 1160.73,176.18 1165.10,175.70 C1169.47,175.23 1173.83,175.15 1178.20,174.99 C1182.57,174.83 1186.93,174.75 1191.30,174.75 C1195.67,174.75 1200.03,174.75 1204.40,174.75 C1208.77,174.75 1213.13,174.75 1217.50,174.75 C1221.87,174.75 1226.23,174.75 1230.60,174.75 C1234.97,174.75 1239.33,174.40 1243.70,174.28 C1248.07,174.16 1252.43,174.12 1256.80,174.04" fill="none" stroke="#000000" stroke-width="2.2" stroke-linejoin="round" stroke-linecap="round" />
<text x="0.00" y="0.00" font-size="9" fill="#595959" text-anchor="end" font-weight="normal" font-family='"Liberation Sans","Noto Sans CJK SC",sans-serif' transform="translate(946.60,283) rotate(-90)" textLength="22.6" lengthAdjust="spacingAndGlyphs">4-01</text>
<text x="0.00" y="0.00" font-size="9" fill="#595959" text-anchor="end" font-weight="normal" font-family='"Liberation Sans","Noto Sans CJK SC",sans-serif' transform="translate(959.70,283) rotate(-90)" textLength="22.6" lengthAdjust="spacingAndGlyphs">4-16</text>
<text x="0.00" y="0.00" font-size="9" fill="#595959" text-anchor="end" font-weight="normal" font-family='"Liberation Sans","Noto Sans CJK SC",sans-serif' transform="translate(972.80,283) rotate(-90)" textLength="22.6" lengthAdjust="spacingAndGlyphs">5-01</text>
<text x="0.00" y="0.00" font-size="9" fill="#595959" text-anchor="end" font-weight="normal" font-family='"Liberation Sans","Noto Sans CJK SC",sans-serif' transform="translate(985.90,283) rotate(-90)" textLength="22.6" lengthAdjust="spacingAndGlyphs">5-16</text>
<text x="0.00" y="0.00" font-size="9" fill="#595959" text-anchor="end" font-weight="normal" font-family='"Liberation Sans","Noto Sans CJK SC",sans-serif' transform="translate(999.00,283) rotate(-90)" textLength="22.6" lengthAdjust="spacingAndGlyphs">6-01</text>
<text x="0.00" y="0.00" font-size="9" fill="#595959" text-anchor="end" font-weight="normal" font-family='"Liberation Sans","Noto Sans CJK SC",sans-serif' transform="translate(1012.10,283) rotate(-90)" textLength="22.6" lengthAdjust="spacingAndGlyphs">6-16</text>
<text x="0.00" y="0.00" font-size="9" fill="#595959" text-anchor="end" font-weight="normal" font-family='"Liberation Sans","Noto Sans CJK SC",sans-serif' transform="translate(1025.20,283) rotate(-90)" textLength="22.6" lengthAdjust="spacingAndGlyphs">7-01</text>
<text x="0.00" y="0.00" font-size="9" fill="#595959" text-anchor="end" font-weight="normal" font-family='"Liberation Sans","Noto Sans CJK SC",sans-serif' transform="translate(1038.30,283) rotate(-90)" textLength="22.6" lengthAdjust="spacingAndGlyphs">7-16</text>
<text x="0.00" y="0.00" font-size="9" fill="#595959" text-anchor="end" font-weight="normal" font-family='"Liberation Sans","Noto Sans CJK SC",sans-serif' transform="translate(1051.40,283) rotate(-90)" textLength="17.0" lengthAdjust="spacingAndGlyphs">8-1</text>
<text x="0.00" y="0.00" font-size="9" fill="#595959" text-anchor="end" font-weight="normal" font-family='"Liberation Sans","Noto Sans CJK SC",sans-serif' transform="translate(1064.50,283) rotate(-90)" textLength="22.6" lengthAdjust="spacingAndGlyphs">8-16</text>
<text x="0.00" y="0.00" font-size="9" fill="#595959" text-anchor="end" font-weight="normal" font-family='"Liberation Sans","Noto Sans CJK SC",sans-serif' transform="translate(1077.60,283) rotate(-90)" textLength="22.6" lengthAdjust="spacingAndGlyphs">9-01</text>
<text x="0.00" y="0.00" font-size="9" fill="#595959" text-anchor="end" font-weight="normal" font-family='"Liberation Sans","Noto Sans CJK SC",sans-serif' transform="translate(1090.70,283) rotate(-90)" textLength="22.6" lengthAdjust="spacingAndGlyphs">9-16</text>
<text x="0.00" y="0.00" font-size="9" fill="#595959" text-anchor="end" font-weight="normal" font-family='"Liberation Sans","Noto Sans CJK SC",sans-serif' transform="translate(1103.80,283) rotate(-90)" textLength="28.2" lengthAdjust="spacingAndGlyphs">10-01</text>
<text x="0.00" y="0.00" font-size="9" fill="#595959" text-anchor="end" font-weight="normal" font-family='"Liberation Sans","Noto Sans CJK SC",sans-serif' transform="translate(1116.90,283) rotate(-90)" textLength="28.2" lengthAdjust="spacingAndGlyphs">10-16</text>
<text x="0.00" y="0.00" font-size="9" fill="#595959" text-anchor="end" font-weight="normal" font-family='"Liberation Sans","Noto Sans CJK SC",sans-serif' transform="translate(1130.00,283) rotate(-90)" textLength="28.2" lengthAdjust="spacingAndGlyphs">11-01</text>
<text x="0.00" y="0.00" font-size="9" fill="#595959" text-anchor="end" font-weight="normal" font-family='"Liberation Sans","Noto Sans CJK SC",sans-serif' transform="translate(1143.10,283) rotate(-90)" textLength="28.2" lengthAdjust="spacingAndGlyphs">11-16</text>
<text x="0.00" y="0.00" font-size="9" fill="#595959" text-anchor="end" font-weight="normal" font-family='"Liberation Sans","Noto Sans CJK SC",sans-serif' transform="translate(1156.20,283) rotate(-90)" textLength="22.6" lengthAdjust="spacingAndGlyphs">12-1</text>
<text x="0.00" y="0.00" font-size="9" fill="#595959" text-anchor="end" font-weight="normal" font-family='"Liberation Sans","Noto Sans CJK SC",sans-serif' transform="translate(1169.30,283) rotate(-90)" textLength="28.2" lengthAdjust="spacingAndGlyphs">12-16</text>
<text x="0.00" y="0.00" font-size="9" fill="#595959" text-anchor="end" font-weight="normal" font-family='"Liberation Sans","Noto Sans CJK SC",sans-serif' transform="translate(1182.40,283) rotate(-90)" textLength="22.6" lengthAdjust="spacingAndGlyphs">1-01</text>
<text x="0.00" y="0.00" font-size="9" fill="#595959" text-anchor="end" font-weight="normal" font-family='"Liberation Sans","Noto Sans CJK SC",sans-serif' transform="translate(1195.50,283) rotate(-90)" textLength="22.6" lengthAdjust="spacingAndGlyphs">1-16</text>
<text x="0.00" y="0.00" font-size="9" fill="#595959" text-anchor="end" font-weight="normal" font-family='"Liberation Sans","Noto Sans CJK SC",sans-serif' transform="translate(1208.60,283) rotate(-90)" textLength="22.6" lengthAdjust="spacingAndGlyphs">2-01</text>
<text x="0.00" y="0.00" font-size="9" fill="#595959" text-anchor="end" font-weight="normal" font-family='"Liberation Sans","Noto Sans CJK SC",sans-serif' transform="translate(1221.70,283) rotate(-90)" textLength="22.6" lengthAdjust="spacingAndGlyphs">2-16</text>
<text x="0.00" y="0.00" font-size="9" fill="#595959" text-anchor="end" font-weight="normal" font-family='"Liberation Sans","Noto Sans CJK SC",sans-serif' transform="translate(1234.80,283) rotate(-90)" textLength="22.6" lengthAdjust="spacingAndGlyphs">3-01</text>
<text x="0.00" y="0.00" font-size="9" fill="#595959" text-anchor="end" font-weight="normal" font-family='"Liberation Sans","Noto Sans CJK SC",sans-serif' transform="translate(1247.90,283) rotate(-90)" textLength="22.6" lengthAdjust="spacingAndGlyphs">3-15</text>
<text x="0.00" y="0.00" font-size="9" fill="#595959" text-anchor="end" font-weight="normal" font-family='"Liberation Sans","Noto Sans CJK SC",sans-serif' transform="translate(1261.00,283) rotate(-90)" textLength="22.6" lengthAdjust="spacingAndGlyphs">4-01</text>
<rect x="971.6" y="329.5" width="20.3" height="6.6" fill="#4ea3bf"/>
<text x="995.30" y="336.80" font-size="11" fill="#595959" text-anchor="start" font-weight="normal" font-family='"Liberation Sans","Noto Sans CJK SC",sans-serif' textLength="32" lengthAdjust="spacingAndGlyphs">2024/25</text>
<rect x="1030.3" y="329.5" width="20.3" height="6.6" fill="#b8202a"/>
<text x="1054.00" y="336.80" font-size="11" fill="#595959" text-anchor="start" font-weight="normal" font-family='"Liberation Sans","Noto Sans CJK SC",sans-serif' textLength="32" lengthAdjust="spacingAndGlyphs">2025/26</text>
<line x1="1089.9" y1="332.8" x2="1109.4" y2="332.8" stroke="#5a80aa" stroke-width="1.8" stroke-linecap="round"/>
<text x="1113.10" y="336.80" font-size="11" fill="#595959" text-anchor="start" font-weight="normal" font-family='"Liberation Sans","Noto Sans CJK SC",sans-serif' textLength="32" lengthAdjust="spacingAndGlyphs">2019/20</text>
<line x1="1149.1" y1="332.8" x2="1168.6" y2="332.8" stroke="#a392c4" stroke-width="1.8" stroke-linecap="round"/>
<text x="1172.30" y="336.80" font-size="11" fill="#595959" text-anchor="start" font-weight="normal" font-family='"Liberation Sans","Noto Sans CJK SC",sans-serif' textLength="32" lengthAdjust="spacingAndGlyphs">2020/21</text>
<line x1="972.1" y1="355.6" x2="991.6" y2="355.6" stroke="#8c9c3c" stroke-width="1.8" stroke-linecap="round"/>
<text x="995.30" y="359.60" font-size="11" fill="#595959" text-anchor="start" font-weight="normal" font-family='"Liberation Sans","Noto Sans CJK SC",sans-serif' textLength="32" lengthAdjust="spacingAndGlyphs">2021/22</text>
<line x1="1030.8" y1="355.6" x2="1050.3" y2="355.6" stroke="#4f6228" stroke-width="1.8" stroke-linecap="round"/>
<text x="1054.00" y="359.60" font-size="11" fill="#595959" text-anchor="start" font-weight="normal" font-family='"Liberation Sans","Noto Sans CJK SC",sans-serif' textLength="32" lengthAdjust="spacingAndGlyphs">2022/23</text>
<line x1="1089.9" y1="355.6" x2="1109.4" y2="355.6" stroke="#000000" stroke-width="2.6" stroke-linecap="round"/>
<text x="1113.10" y="359.60" font-size="11" fill="#595959" text-anchor="start" font-weight="normal" font-family='"Liberation Sans","Noto Sans CJK SC",sans-serif' textLength="32" lengthAdjust="spacingAndGlyphs">2023/24</text>
<text x="605.80" y="400.30" font-size="12" fill="#262626" text-anchor="start" font-weight="normal" font-family='"Liberation Sans","Noto Sans CJK SC",sans-serif' textLength="163.5" lengthAdjust="spacingAndGlyphs">巴西中南部双周累计制糖比（%）</text>
<text x="507.60" y="569.30" font-size="10" fill="#595959" text-anchor="end" font-weight="normal" font-family='"Liberation Sans","Noto Sans CJK SC",sans-serif' textLength="15.5" lengthAdjust="spacingAndGlyphs">20%</text>
<text x="507.60" y="549.57" font-size="10" fill="#595959" text-anchor="end" font-weight="normal" font-family='"Liberation Sans","Noto Sans CJK SC",sans-serif' textLength="15.5" lengthAdjust="spacingAndGlyphs">25%</text>
<text x="507.60" y="529.84" font-size="10" fill="#595959" text-anchor="end" font-weight="normal" font-family='"Liberation Sans","Noto Sans CJK SC",sans-serif' textLength="15.5" lengthAdjust="spacingAndGlyphs">30%</text>
<text x="507.60" y="510.11" font-size="10" fill="#595959" text-anchor="end" font-weight="normal" font-family='"Liberation Sans","Noto Sans CJK SC",sans-serif' textLength="15.5" lengthAdjust="spacingAndGlyphs">35%</text>
<text x="507.60" y="490.38" font-size="10" fill="#595959" text-anchor="end" font-weight="normal" font-family='"Liberation Sans","Noto Sans CJK SC",sans-serif' textLength="15.5" lengthAdjust="spacingAndGlyphs">40%</text>
<text x="507.60" y="470.65" font-size="10" fill="#595959" text-anchor="end" font-weight="normal" font-family='"Liberation Sans","Noto Sans CJK SC",sans-serif' textLength="15.5" lengthAdjust="spacingAndGlyphs">45%</text>
<text x="507.60" y="450.92" font-size="10" fill="#595959" text-anchor="end" font-weight="normal" font-family='"Liberation Sans","Noto Sans CJK SC",sans-serif' textLength="15.5" lengthAdjust="spacingAndGlyphs">50%</text>
<text x="507.60" y="431.19" font-size="10" fill="#595959" text-anchor="end" font-weight="normal" font-family='"Liberation Sans","Noto Sans CJK SC",sans-serif' textLength="15.5" lengthAdjust="spacingAndGlyphs">55%</text>
<line x1="517.4" y1="565.3" x2="885" y2="565.3" stroke="#d9d9d9" stroke-width="1"/>
<rect x="520.80" y="472.57" width="3.6" height="92.73" fill="#22375e"/>
<rect x="536.01" y="458.36" width="3.6" height="106.94" fill="#22375e"/>
<rect x="551.22" y="456.00" width="3.6" height="109.30" fill="#22375e"/>
<rect x="566.43" y="455.60" width="3.6" height="109.70" fill="#22375e"/>
<rect x="581.64" y="455.21" width="3.6" height="110.09" fill="#22375e"/>
<rect x="596.85" y="454.02" width="3.6" height="111.28" fill="#22375e"/>
<rect x="612.06" y="452.84" width="3.6" height="112.46" fill="#22375e"/>
<rect x="627.27" y="451.66" width="3.6" height="113.64" fill="#22375e"/>
<rect x="642.48" y="451.26" width="3.6" height="114.04" fill="#22375e"/>
<rect x="657.69" y="450.87" width="3.6" height="114.43" fill="#22375e"/>
<rect x="672.90" y="450.87" width="3.6" height="114.43" fill="#22375e"/>
<rect x="688.11" y="451.26" width="3.6" height="114.04" fill="#22375e"/>
<rect x="703.32" y="452.05" width="3.6" height="113.25" fill="#22375e"/>
<rect x="718.53" y="452.84" width="3.6" height="112.46" fill="#22375e"/>
<rect x="733.74" y="453.63" width="3.6" height="111.67" fill="#22375e"/>
<rect x="748.95" y="454.02" width="3.6" height="111.28" fill="#22375e"/>
<rect x="764.16" y="454.42" width="3.6" height="110.88" fill="#22375e"/>
<rect x="779.37" y="454.42" width="3.6" height="110.88" fill="#22375e"/>
<rect x="794.58" y="454.42" width="3.6" height="110.88" fill="#22375e"/>
<rect x="809.79" y="454.42" width="3.6" height="110.88" fill="#22375e"/>
<rect x="825.00" y="454.61" width="3.6" height="110.69" fill="#22375e"/>
<rect x="840.21" y="454.61" width="3.6" height="110.69" fill="#22375e"/>
<rect x="855.42" y="454.61" width="3.6" height="110.69" fill="#22375e"/>
<rect x="524.20" y="468.23" width="5.0" height="97.07" fill="#d0191f"/>
<rect x="539.41" y="465.86" width="5.0" height="99.44" fill="#d0191f"/>
<rect x="554.62" y="452.05" width="5.0" height="113.25" fill="#d0191f"/>
<rect x="569.83" y="446.53" width="5.0" height="118.77" fill="#d0191f"/>
<rect x="585.04" y="444.55" width="5.0" height="120.75" fill="#d0191f"/>
<rect x="600.25" y="441.79" width="5.0" height="123.51" fill="#d0191f"/>
<rect x="615.46" y="440.21" width="5.0" height="125.09" fill="#d0191f"/>
<rect x="630.67" y="438.63" width="5.0" height="126.67" fill="#d0191f"/>
<rect x="645.88" y="437.05" width="5.0" height="128.25" fill="#d0191f"/>
<rect x="661.09" y="435.87" width="5.0" height="129.43" fill="#d0191f"/>
<rect x="676.30" y="435.87" width="5.0" height="129.43" fill="#d0191f"/>
<rect x="691.51" y="436.27" width="5.0" height="129.03" fill="#d0191f"/>
<rect x="706.72" y="437.05" width="5.0" height="128.25" fill="#d0191f"/>
<rect x="721.93" y="439.03" width="5.0" height="126.27" fill="#d0191f"/>
<rect x="737.14" y="440.61" width="5.0" height="124.69" fill="#d0191f"/>
<rect x="752.35" y="442.18" width="5.0" height="123.12" fill="#d0191f"/>
<rect x="767.56" y="443.37" width="5.0" height="121.93" fill="#d0191f"/>
<rect x="782.77" y="443.37" width="5.0" height="121.93" fill="#d0191f"/>
<rect x="797.98" y="443.37" width="5.0" height="121.93" fill="#d0191f"/>
<rect x="813.19" y="444.16" width="5.0" height="121.14" fill="#d0191f"/>
<path d="M525.00,547.54 C530.07,541.62 535.14,535.05 540.21,529.79 C545.28,524.52 550.35,518.93 555.42,515.97 C560.49,513.02 565.56,513.02 570.63,512.03 C575.70,511.04 580.77,510.71 585.84,510.06 C590.91,509.40 595.98,508.67 601.05,508.08 C606.12,507.49 611.19,506.96 616.26,506.50 C621.33,506.04 626.40,505.58 631.47,505.32 C636.54,505.06 641.61,504.93 646.68,504.93 C651.75,504.93 656.82,504.93 661.89,504.93 C666.96,504.93 672.03,504.93 677.10,504.93 C682.17,504.93 687.24,505.12 692.31,505.32 C697.38,505.52 702.45,505.85 707.52,506.11 C712.59,506.37 717.66,506.64 722.73,506.90 C727.80,507.16 732.87,507.49 737.94,507.69 C743.01,507.89 748.08,508.08 753.15,508.08 C758.22,508.08 763.29,508.08 768.36,508.08 C773.43,508.08 778.50,508.08 783.57,508.08 C788.64,508.08 793.71,508.08 798.78,508.08 C803.85,508.08 808.92,508.08 813.99,508.08 C819.06,508.08 824.13,508.48 829.20,508.48 C834.27,508.48 839.34,508.48 844.41,508.48 C849.48,508.48 854.55,508.87 859.62,508.87 C864.69,508.87 869.76,508.87 874.83,508.87" fill="none" stroke="#4a4a28" stroke-width="1.9" stroke-linejoin="round" stroke-linecap="round" />
<path d="M525.00,519.92 C530.07,516.63 535.14,512.49 540.21,510.06 C545.28,507.62 550.35,505.32 555.42,505.32 C560.49,505.32 565.56,507.69 570.63,507.69 C575.70,507.69 580.77,506.70 585.84,506.11 C590.91,505.52 595.98,504.66 601.05,504.14 C606.12,503.61 611.19,503.35 616.26,502.95 C621.33,502.56 626.40,502.03 631.47,501.77 C636.54,501.51 641.61,501.51 646.68,501.37 C651.75,501.24 656.82,500.98 661.89,500.98 C666.96,500.98 672.03,500.98 677.10,500.98 C682.17,500.98 687.24,501.18 692.31,501.37 C697.38,501.57 702.45,501.77 707.52,502.16 C712.59,502.56 717.66,503.28 722.73,503.74 C727.80,504.20 732.87,504.93 737.94,504.93 C743.01,504.93 748.08,504.93 753.15,504.93 C758.22,504.93 763.29,504.93 768.36,504.93 C773.43,504.93 778.50,504.93 783.57,504.93 C788.64,504.93 793.71,504.93 798.78,504.93 C803.85,504.93 808.92,504.93 813.99,504.93 C819.06,504.93 824.13,504.93 829.20,504.93 C834.27,504.93 839.34,504.93 844.41,504.93 C849.48,504.93 854.55,505.32 859.62,505.32 C864.69,505.32 869.76,505.32 874.83,505.32" fill="none" stroke="#d8c6a8" stroke-width="1.9" stroke-linejoin="round" stroke-linecap="round" />
<path d="M525.00,490.33 C530.07,486.12 535.14,481.51 540.21,477.70 C545.28,473.88 550.35,469.68 555.42,467.44 C560.49,465.20 565.56,465.01 570.63,464.28 C575.70,463.56 580.77,463.36 585.84,463.10 C590.91,462.84 595.98,462.84 601.05,462.70 C606.12,462.57 611.19,462.44 616.26,462.31 C621.33,462.18 626.40,461.91 631.47,461.91 C636.54,461.91 641.61,461.91 646.68,461.91 C651.75,461.91 656.82,461.91 661.89,461.91 C666.96,461.91 672.03,461.91 677.10,461.91 C682.17,461.91 687.24,462.18 692.31,462.31 C697.38,462.44 702.45,462.51 707.52,462.70 C712.59,462.90 717.66,463.23 722.73,463.49 C727.80,463.76 732.87,464.09 737.94,464.28 C743.01,464.48 748.08,464.55 753.15,464.68 C758.22,464.81 763.29,464.94 768.36,465.07 C773.43,465.20 778.50,465.47 783.57,465.47 C788.64,465.47 793.71,465.47 798.78,465.47 C803.85,465.47 808.92,465.86 813.99,465.86 C819.06,465.86 824.13,465.86 829.20,465.86 C834.27,465.86 839.34,465.86 844.41,465.86 C849.48,465.86 854.55,465.86 859.62,465.86 C864.69,465.86 869.76,465.86 874.83,465.86" fill="none" stroke="#a9cc6a" stroke-width="2.2" stroke-linejoin="round" stroke-linecap="round" />
<path d="M525.00,494.27 C530.07,493.99 535.14,494.25 540.21,492.30 C545.28,490.35 550.35,471.30 555.42,466.65 C560.49,462.00 565.56,462.82 570.63,461.91 C575.70,461.01 580.77,461.06 585.84,460.73 C590.91,460.40 595.98,460.14 601.05,459.94 C606.12,459.74 611.19,459.68 616.26,459.55 C621.33,459.42 626.40,459.15 631.47,459.15 C636.54,459.15 641.61,459.15 646.68,459.15 C651.75,459.15 656.82,459.15 661.89,459.15 C666.96,459.15 672.03,459.15 677.10,459.15 C682.17,459.15 687.24,459.15 692.31,459.15 C697.38,459.15 702.45,459.42 707.52,459.55 C712.59,459.68 717.66,459.81 722.73,459.94 C727.80,460.07 732.87,460.20 737.94,460.34 C743.01,460.47 748.08,460.60 753.15,460.73 C758.22,460.86 763.29,461.13 768.36,461.13 C773.43,461.13 778.50,461.13 783.57,461.13 C788.64,461.13 793.71,461.13 798.78,461.13 C803.85,461.13 808.92,461.13 813.99,461.13 C819.06,461.13 824.13,461.13 829.20,461.13 C834.27,461.13 839.34,461.13 844.41,461.13 C849.48,461.13 854.55,461.13 859.62,461.13 C864.69,461.13 869.76,461.13 874.83,461.13" fill="none" stroke="#c8762e" stroke-width="1.9" stroke-linejoin="round" stroke-linecap="round" />
<path d="M525.00,543.60 C530.07,530.44 535.14,513.34 540.21,504.14 C545.28,494.93 550.35,492.30 555.42,488.35 C560.49,484.41 565.56,482.57 570.63,480.46 C575.70,478.36 580.77,477.04 585.84,475.73 C590.91,474.41 595.98,473.49 601.05,472.57 C606.12,471.65 611.19,470.92 616.26,470.20 C621.33,469.48 626.40,468.82 631.47,468.23 C636.54,467.64 641.61,467.11 646.68,466.65 C651.75,466.19 656.82,465.86 661.89,465.47 C666.96,465.07 672.03,464.61 677.10,464.28 C682.17,463.95 687.24,463.76 692.31,463.49 C697.38,463.23 702.45,462.90 707.52,462.70 C712.59,462.51 717.66,462.44 722.73,462.31 C727.80,462.18 732.87,462.05 737.94,461.91 C743.01,461.78 748.08,461.52 753.15,461.52 C758.22,461.52 763.29,461.52 768.36,461.52 C773.43,461.52 778.50,461.13 783.57,461.13 C788.64,461.13 793.71,461.13 798.78,461.13 C803.85,461.13 808.92,461.13 813.99,461.13 C819.06,461.13 824.13,461.13 829.20,461.13 C834.27,461.13 839.34,461.13 844.41,461.13 C849.48,461.13 854.55,461.13 859.62,461.13 C864.69,461.13 869.76,461.13 874.83,461.13" fill="none" stroke="#7e63ad" stroke-width="2.1" stroke-linejoin="round" stroke-linecap="round" />
<path d="M525.00,492.30 C530.07,487.04 535.14,480.79 540.21,476.51 C545.28,472.24 550.35,468.82 555.42,466.65 C560.49,464.48 565.56,464.35 570.63,463.49 C575.70,462.64 580.77,462.18 585.84,461.52 C590.91,460.86 595.98,460.20 601.05,459.55 C606.12,458.89 611.19,458.23 616.26,457.57 C621.33,456.92 626.40,456.19 631.47,455.60 C636.54,455.01 641.61,454.48 646.68,454.02 C651.75,453.56 656.82,453.10 661.89,452.84 C666.96,452.58 672.03,452.44 677.10,452.44 C682.17,452.44 687.24,452.44 692.31,452.44 C697.38,452.44 702.45,453.10 707.52,453.63 C712.59,454.15 717.66,455.01 722.73,455.60 C727.80,456.19 732.87,456.65 737.94,457.18 C743.01,457.71 748.08,458.36 753.15,458.76 C758.22,459.15 763.29,459.35 768.36,459.55 C773.43,459.74 778.50,459.94 783.57,459.94 C788.64,459.94 793.71,459.94 798.78,459.94 C803.85,459.94 808.92,459.94 813.99,459.94 C819.06,459.94 824.13,459.94 829.20,459.94 C834.27,459.94 839.34,460.34 844.41,460.34 C849.48,460.34 854.55,460.34 859.62,460.34 C864.69,460.34 869.76,460.34 874.83,460.34" fill="none" stroke="#5b7ea8" stroke-width="3" stroke-linejoin="round" stroke-linecap="round" />
<path d="M525.00,486.38 C530.07,481.78 535.14,476.19 540.21,472.57 C545.28,468.95 550.35,466.65 555.42,464.68 C560.49,462.70 565.56,461.72 570.63,460.73 C575.70,459.74 580.77,459.42 585.84,458.76 C590.91,458.10 595.98,457.38 601.05,456.78 C606.12,456.19 611.19,455.73 616.26,455.21 C621.33,454.68 626.40,454.09 631.47,453.63 C636.54,453.17 641.61,452.77 646.68,452.44 C651.75,452.12 656.82,451.92 661.89,451.66 C666.96,451.39 672.03,451.13 677.10,450.87 C682.17,450.60 687.24,450.08 692.31,450.08 C697.38,450.08 702.45,450.08 707.52,450.08 C712.59,450.08 717.66,450.08 722.73,450.08 C727.80,450.08 732.87,450.08 737.94,450.08 C743.01,450.08 748.08,450.08 753.15,450.08 C758.22,450.08 763.29,450.08 768.36,450.08 C773.43,450.08 778.50,450.47 783.57,450.47 C788.64,450.47 793.71,450.47 798.78,450.47 C803.85,450.47 808.92,450.47 813.99,450.47 C819.06,450.47 824.13,450.47 829.20,450.47 C834.27,450.47 839.34,450.87 844.41,450.87 C849.48,450.87 854.55,450.87 859.62,450.87 C864.69,450.87 869.76,450.87 874.83,450.87" fill="none" stroke="#f2b27c" stroke-width="1.9" stroke-linejoin="round" stroke-linecap="round" />
<text x="0.00" y="0.00" font-size="9.5" fill="#595959" text-anchor="end" font-weight="normal" font-family='"Liberation Sans","Noto Sans CJK SC",sans-serif' transform="translate(528.30,573.5) rotate(-90)" letter-spacing="0.8">4-16</text>
<text x="0.00" y="0.00" font-size="9.5" fill="#595959" text-anchor="end" font-weight="normal" font-family='"Liberation Sans","Noto Sans CJK SC",sans-serif' transform="translate(543.51,573.5) rotate(-90)" letter-spacing="0.8">5-01</text>
<text x="0.00" y="0.00" font-size="9.5" fill="#595959" text-anchor="end" font-weight="normal" font-family='"Liberation Sans","Noto Sans CJK SC",sans-serif' transform="translate(558.72,573.5) rotate(-90)" letter-spacing="0.8">5-16</text>
<text x="0.00" y="0.00" font-size="9.5" fill="#595959" text-anchor="end" font-weight="normal" font-family='"Liberation Sans","Noto Sans CJK SC",sans-serif' transform="translate(573.93,573.5) rotate(-90)" letter-spacing="0.8">6-01</text>
<text x="0.00" y="0.00" font-size="9.5" fill="#595959" text-anchor="end" font-weight="normal" font-family='"Liberation Sans","Noto Sans CJK SC",sans-serif' transform="translate(589.14,573.5) rotate(-90)" letter-spacing="0.8">6-16</text>
<text x="0.00" y="0.00" font-size="9.5" fill="#595959" text-anchor="end" font-weight="normal" font-family='"Liberation Sans","Noto Sans CJK SC",sans-serif' transform="translate(604.35,573.5) rotate(-90)" letter-spacing="0.8">7-1</text>
<text x="0.00" y="0.00" font-size="9.5" fill="#595959" text-anchor="end" font-weight="normal" font-family='"Liberation Sans","Noto Sans CJK SC",sans-serif' transform="translate(619.56,573.5) rotate(-90)" letter-spacing="0.8">7-16</text>
<text x="0.00" y="0.00" font-size="9.5" fill="#595959" text-anchor="end" font-weight="normal" font-family='"Liberation Sans","Noto Sans CJK SC",sans-serif' transform="translate(634.77,573.5) rotate(-90)" letter-spacing="0.8">8-1</text>
<text x="0.00" y="0.00" font-size="9.5" fill="#595959" text-anchor="end" font-weight="normal" font-family='"Liberation Sans","Noto Sans CJK SC",sans-serif' transform="translate(649.98,573.5) rotate(-90)" letter-spacing="0.8">8-16</text>
<text x="0.00" y="0.00" font-size="9.5" fill="#595959" text-anchor="end" font-weight="normal" font-family='"Liberation Sans","Noto Sans CJK SC",sans-serif' transform="translate(665.19,573.5) rotate(-90)" letter-spacing="0.8">9-1</text>
<text x="0.00" y="0.00" font-size="9.5" fill="#595959" text-anchor="end" font-weight="normal" font-family='"Liberation Sans","Noto Sans CJK SC",sans-serif' transform="translate(680.40,573.5) rotate(-90)" letter-spacing="0.8">9-16</text>
<text x="0.00" y="0.00" font-size="9.5" fill="#595959" text-anchor="end" font-weight="normal" font-family='"Liberation Sans","Noto Sans CJK SC",sans-serif' transform="translate(695.61,573.5) rotate(-90)" letter-spacing="0.8">10-01</text>
<text x="0.00" y="0.00" font-size="9.5" fill="#595959" text-anchor="end" font-weight="normal" font-family='"Liberation Sans","Noto Sans CJK SC",sans-serif' transform="translate(710.82,573.5) rotate(-90)" letter-spacing="0.8">10-16</text>
<text x="0.00" y="0.00" font-size="9.5" fill="#595959" text-anchor="end" font-weight="normal" font-family='"Liberation Sans","Noto Sans CJK SC",sans-serif' transform="translate(726.03,573.5) rotate(-90)" letter-spacing="0.8">11-01</text>
<text x="0.00" y="0.00" font-size="9.5" fill="#595959" text-anchor="end" font-weight="normal" font-family='"Liberation Sans","Noto Sans CJK SC",sans-serif' transform="translate(741.24,573.5) rotate(-90)" letter-spacing="0.8">11-16</text>
<text x="0.00" y="0.00" font-size="9.5" fill="#595959" text-anchor="end" font-weight="normal" font-family='"Liberation Sans","Noto Sans CJK SC",sans-serif' transform="translate(756.45,573.5) rotate(-90)" letter-spacing="0.8">12-1</text>
<text x="0.00" y="0.00" font-size="9.5" fill="#595959" text-anchor="end" font-weight="normal" font-family='"Liberation Sans","Noto Sans CJK SC",sans-serif' transform="translate(771.66,573.5) rotate(-90)" letter-spacing="0.8">12-16</text>
<text x="0.00" y="0.00" font-size="9.5" fill="#595959" text-anchor="end" font-weight="normal" font-family='"Liberation Sans","Noto Sans CJK SC",sans-serif' transform="translate(786.87,573.5) rotate(-90)" letter-spacing="0.8">1-01</text>
<text x="0.00" y="0.00" font-size="9.5" fill="#595959" text-anchor="end" font-weight="normal" font-family='"Liberation Sans","Noto Sans CJK SC",sans-serif' transform="translate(802.08,573.5) rotate(-90)" letter-spacing="0.8">1-16</text>
<text x="0.00" y="0.00" font-size="9.5" fill="#595959" text-anchor="end" font-weight="normal" font-family='"Liberation Sans","Noto Sans CJK SC",sans-serif' transform="translate(817.29,573.5) rotate(-90)" letter-spacing="0.8">2-01</text>
<text x="0.00" y="0.00" font-size="9.5" fill="#595959" text-anchor="end" font-weight="normal" font-family='"Liberation Sans","Noto Sans CJK SC",sans-serif' transform="translate(832.50,573.5) rotate(-90)" letter-spacing="0.8">2-16</text>
<text x="0.00" y="0.00" font-size="9.5" fill="#595959" text-anchor="end" font-weight="normal" font-family='"Liberation Sans","Noto Sans CJK SC",sans-serif' transform="translate(847.71,573.5) rotate(-90)" letter-spacing="0.8">3-01</text>
<text x="0.00" y="0.00" font-size="9.5" fill="#595959" text-anchor="end" font-weight="normal" font-family='"Liberation Sans","Noto Sans CJK SC",sans-serif' transform="translate(862.92,573.5) rotate(-90)" letter-spacing="0.8">3-15</text>
<text x="0.00" y="0.00" font-size="9.5" fill="#595959" text-anchor="end" font-weight="normal" font-family='"Liberation Sans","Noto Sans CJK SC",sans-serif' transform="translate(878.13,573.5) rotate(-90)" letter-spacing="0.8">4-01</text>
<rect x="502.0" y="617.0" width="19" height="7" fill="#22375e"/>
<text x="524.30" y="624.30" font-size="10.5" fill="#404040" text-anchor="start" font-weight="normal" font-family='"Liberation Sans","Noto Sans CJK SC",sans-serif' textLength="31" lengthAdjust="spacingAndGlyphs">2024/25</text>
<rect x="579.0" y="617.0" width="19" height="7" fill="#d0191f"/>
<text x="601.30" y="624.30" font-size="10.5" fill="#404040" text-anchor="start" font-weight="normal" font-family='"Liberation Sans","Noto Sans CJK SC",sans-serif' textLength="31" lengthAdjust="spacingAndGlyphs">2025/26</text>
<line x1="656.1" y1="620.5" x2="675.1" y2="620.5" stroke="#5b7ea8" stroke-width="3.2" stroke-linecap="round"/>
<text x="677.90" y="624.30" font-size="10.5" fill="#404040" text-anchor="start" font-weight="normal" font-family='"Liberation Sans","Noto Sans CJK SC",sans-serif' textLength="31" lengthAdjust="spacingAndGlyphs">2017/18</text>
<line x1="734.0" y1="620.5" x2="753.0" y2="620.5" stroke="#d8c6a8" stroke-width="2.4" stroke-linecap="round"/>
<text x="755.80" y="624.30" font-size="10.5" fill="#404040" text-anchor="start" font-weight="normal" font-family='"Liberation Sans","Noto Sans CJK SC",sans-serif' textLength="31" lengthAdjust="spacingAndGlyphs">2018/19</text>
<line x1="810.9" y1="620.5" x2="829.9" y2="620.5" stroke="#4a4a28" stroke-width="2.4" stroke-linecap="round"/>
<text x="832.70" y="624.30" font-size="10.5" fill="#404040" text-anchor="start" font-weight="normal" font-family='"Liberation Sans","Noto Sans CJK SC",sans-serif' textLength="31" lengthAdjust="spacingAndGlyphs">2019/20</text>
<line x1="502.5" y1="642.2" x2="521.5" y2="642.2" stroke="#c8762e" stroke-width="2.4" stroke-linecap="round"/>
<text x="524.30" y="646.00" font-size="10.5" fill="#404040" text-anchor="start" font-weight="normal" font-family='"Liberation Sans","Noto Sans CJK SC",sans-serif' textLength="31" lengthAdjust="spacingAndGlyphs">2020/21</text>
<line x1="579.5" y1="642.2" x2="598.5" y2="642.2" stroke="#9ccc65" stroke-width="2.4" stroke-linecap="round"/>
<text x="601.30" y="646.00" font-size="10.5" fill="#404040" text-anchor="start" font-weight="normal" font-family='"Liberation Sans","Noto Sans CJK SC",sans-serif' textLength="31" lengthAdjust="spacingAndGlyphs">2021/22</text>
<line x1="656.1" y1="642.2" x2="675.1" y2="642.2" stroke="#7e63ad" stroke-width="2.4" stroke-linecap="round"/>
<text x="677.90" y="646.00" font-size="10.5" fill="#404040" text-anchor="start" font-weight="normal" font-family='"Liberation Sans","Noto Sans CJK SC",sans-serif' textLength="31" lengthAdjust="spacingAndGlyphs">2022/23</text>
<line x1="734.0" y1="642.2" x2="753.0" y2="642.2" stroke="#f2b27c" stroke-width="2.4" stroke-linecap="round"/>
<text x="755.80" y="646.00" font-size="10.5" fill="#404040" text-anchor="start" font-weight="normal" font-family='"Liberation Sans","Noto Sans CJK SC",sans-serif' textLength="31" lengthAdjust="spacingAndGlyphs">2023/24</text>
<text x="1007.80" y="399.50" font-size="12" fill="#404040" text-anchor="start" font-weight="normal" font-family='"Liberation Sans","Noto Sans CJK SC",sans-serif' textLength="159.5" lengthAdjust="spacingAndGlyphs">巴西中南部累计出糖率（Kg/t）</text>
<text x="924.00" y="545.25" font-size="11.5" fill="#595959" text-anchor="end" font-weight="normal" font-family='"Liberation Sans","Noto Sans CJK SC",sans-serif' textLength="16" lengthAdjust="spacingAndGlyphs">100</text>
<text x="924.00" y="521.40" font-size="11.5" fill="#595959" text-anchor="end" font-weight="normal" font-family='"Liberation Sans","Noto Sans CJK SC",sans-serif' textLength="16" lengthAdjust="spacingAndGlyphs">110</text>
<text x="924.00" y="497.55" font-size="11.5" fill="#595959" text-anchor="end" font-weight="normal" font-family='"Liberation Sans","Noto Sans CJK SC",sans-serif' textLength="16" lengthAdjust="spacingAndGlyphs">120</text>
<text x="924.00" y="473.70" font-size="11.5" fill="#595959" text-anchor="end" font-weight="normal" font-family='"Liberation Sans","Noto Sans CJK SC",sans-serif' textLength="16" lengthAdjust="spacingAndGlyphs">130</text>
<text x="924.00" y="449.85" font-size="11.5" fill="#595959" text-anchor="end" font-weight="normal" font-family='"Liberation Sans","Noto Sans CJK SC",sans-serif' textLength="16" lengthAdjust="spacingAndGlyphs">140</text>
<text x="924.00" y="426.00" font-size="11.5" fill="#595959" text-anchor="end" font-weight="normal" font-family='"Liberation Sans","Noto Sans CJK SC",sans-serif' textLength="16" lengthAdjust="spacingAndGlyphs">150</text>
<line x1="937.2" y1="541.2" x2="1257" y2="541.2" stroke="#d9d9d9" stroke-width="1"/>
<rect x="953.10" y="522.41" width="3.6" height="18.84" fill="#2e3f66"/>
<rect x="965.90" y="511.20" width="3.6" height="30.05" fill="#2e3f66"/>
<rect x="978.70" y="510.01" width="3.6" height="31.24" fill="#2e3f66"/>
<rect x="991.50" y="488.06" width="3.6" height="53.19" fill="#2e3f66"/>
<rect x="1004.30" y="479.96" width="3.6" height="61.29" fill="#2e3f66"/>
<rect x="1017.10" y="476.14" width="3.6" height="65.11" fill="#2e3f66"/>
<rect x="1029.90" y="470.65" width="3.6" height="70.60" fill="#2e3f66"/>
<rect x="1042.70" y="464.93" width="3.6" height="76.32" fill="#2e3f66"/>
<rect x="1055.50" y="459.21" width="3.6" height="82.04" fill="#2e3f66"/>
<rect x="1068.30" y="453.72" width="3.6" height="87.53" fill="#2e3f66"/>
<rect x="1081.10" y="449.90" width="3.6" height="91.35" fill="#2e3f66"/>
<rect x="1093.90" y="446.80" width="3.6" height="94.45" fill="#2e3f66"/>
<rect x="1106.70" y="441.32" width="3.6" height="99.93" fill="#2e3f66"/>
<rect x="1119.50" y="439.89" width="3.6" height="101.36" fill="#2e3f66"/>
<rect x="1132.30" y="439.41" width="3.6" height="101.84" fill="#2e3f66"/>
<rect x="1145.10" y="441.32" width="3.6" height="99.93" fill="#2e3f66"/>
<rect x="1157.90" y="443.70" width="3.6" height="97.55" fill="#2e3f66"/>
<rect x="1170.70" y="443.70" width="3.6" height="97.55" fill="#2e3f66"/>
<rect x="1183.50" y="443.70" width="3.6" height="97.55" fill="#2e3f66"/>
<rect x="1196.30" y="443.70" width="3.6" height="97.55" fill="#2e3f66"/>
<rect x="1209.10" y="443.70" width="3.6" height="97.55" fill="#2e3f66"/>
<rect x="1221.90" y="443.70" width="3.6" height="97.55" fill="#2e3f66"/>
<rect x="1234.70" y="443.70" width="3.6" height="97.55" fill="#2e3f66"/>
<rect x="956.70" y="533.86" width="4.6" height="7.39" fill="#c0262e"/>
<rect x="969.50" y="524.55" width="4.6" height="16.70" fill="#c0262e"/>
<rect x="982.30" y="511.68" width="4.6" height="29.57" fill="#c0262e"/>
<rect x="995.10" y="500.47" width="4.6" height="40.78" fill="#c0262e"/>
<rect x="1007.90" y="494.50" width="4.6" height="46.75" fill="#c0262e"/>
<rect x="1020.70" y="488.78" width="4.6" height="52.47" fill="#c0262e"/>
<rect x="1033.50" y="483.29" width="4.6" height="57.96" fill="#c0262e"/>
<rect x="1046.30" y="477.57" width="4.6" height="63.68" fill="#c0262e"/>
<rect x="1059.10" y="471.13" width="4.6" height="70.12" fill="#c0262e"/>
<rect x="1071.90" y="465.65" width="4.6" height="75.60" fill="#c0262e"/>
<rect x="1084.70" y="459.92" width="4.6" height="81.33" fill="#c0262e"/>
<rect x="1097.50" y="454.91" width="4.6" height="86.34" fill="#c0262e"/>
<rect x="1110.30" y="451.81" width="4.6" height="89.44" fill="#c0262e"/>
<rect x="1123.10" y="449.90" width="4.6" height="91.35" fill="#c0262e"/>
<rect x="1135.90" y="449.90" width="4.6" height="91.35" fill="#c0262e"/>
<rect x="1148.70" y="449.90" width="4.6" height="91.35" fill="#c0262e"/>
<rect x="1161.50" y="449.90" width="4.6" height="91.35" fill="#c0262e"/>
<rect x="1174.30" y="449.90" width="4.6" height="91.35" fill="#c0262e"/>
<rect x="1187.10" y="449.90" width="4.6" height="91.35" fill="#c0262e"/>
<rect x="1199.90" y="450.14" width="4.6" height="91.11" fill="#c0262e"/>
<path d="M956.40,520.02 C960.67,517.96 964.93,516.72 969.20,513.82 C973.47,510.92 977.73,505.71 982.00,502.61 C986.27,499.51 990.53,497.33 994.80,495.22 C999.07,493.11 1003.33,491.76 1007.60,489.97 C1011.87,488.18 1016.13,486.36 1020.40,484.49 C1024.67,482.62 1028.93,480.75 1033.20,478.76 C1037.47,476.78 1041.73,474.55 1046.00,472.56 C1050.27,470.57 1054.53,468.71 1058.80,466.84 C1063.07,464.97 1067.33,463.10 1071.60,461.35 C1075.87,459.60 1080.13,458.05 1084.40,456.34 C1088.67,454.63 1092.93,452.29 1097.20,451.10 C1101.47,449.90 1105.73,449.67 1110.00,449.19 C1114.27,448.71 1118.53,448.47 1122.80,448.24 C1127.07,448.00 1131.33,447.76 1135.60,447.76 C1139.87,447.76 1144.13,447.76 1148.40,447.76 C1152.67,447.76 1156.93,447.92 1161.20,448.00 C1165.47,448.08 1169.73,448.24 1174.00,448.24 C1178.27,448.24 1182.53,448.24 1186.80,448.24 C1191.07,448.24 1195.33,448.24 1199.60,448.24 C1203.87,448.24 1208.13,448.24 1212.40,448.24 C1216.67,448.24 1220.93,448.24 1225.20,448.24 C1229.47,448.24 1233.73,448.24 1238.00,448.24 C1242.27,448.24 1246.53,448.39 1250.80,448.47" fill="none" stroke="#a493c9" stroke-width="1.6" stroke-linejoin="round" stroke-linecap="round" />
<path d="M956.40,520.02 C960.67,516.76 964.93,514.26 969.20,510.25 C973.47,506.23 977.73,500.31 982.00,495.94 C986.27,491.56 990.53,487.11 994.80,484.01 C999.07,480.91 1003.33,479.32 1007.60,477.33 C1011.87,475.34 1016.13,473.83 1020.40,472.09 C1024.67,470.34 1028.93,468.59 1033.20,466.84 C1037.47,465.09 1041.73,463.30 1046.00,461.59 C1050.27,459.88 1054.53,458.21 1058.80,456.58 C1063.07,454.95 1067.33,453.32 1071.60,451.81 C1075.87,450.30 1080.13,448.83 1084.40,447.52 C1088.67,446.21 1092.93,444.42 1097.20,443.94 C1101.47,443.47 1105.73,443.47 1110.00,443.47 C1114.27,443.47 1118.53,444.58 1122.80,445.13 C1127.07,445.69 1131.33,446.29 1135.60,446.80 C1139.87,447.32 1144.13,447.88 1148.40,448.24 C1152.67,448.59 1156.93,448.75 1161.20,448.95 C1165.47,449.15 1169.73,449.27 1174.00,449.43 C1178.27,449.59 1182.53,449.90 1186.80,449.90 C1191.07,449.90 1195.33,449.90 1199.60,449.90 C1203.87,449.90 1208.13,449.90 1212.40,449.90 C1216.67,449.90 1220.93,449.90 1225.20,449.90 C1229.47,449.90 1233.73,449.90 1238.00,449.90 C1242.27,449.90 1246.53,449.90 1250.80,449.90" fill="none" stroke="#7f7f7f" stroke-width="1.6" stroke-linejoin="round" stroke-linecap="round" />
<path d="M956.40,522.41 C960.67,522.28 964.93,522.40 969.20,521.22 C973.47,520.03 977.73,506.67 982.00,499.99 C986.27,493.31 990.53,484.11 994.80,481.15 C999.07,478.18 1003.33,478.95 1007.60,478.05 C1011.87,477.14 1016.13,475.94 1020.40,474.47 C1024.67,473.00 1028.93,471.05 1033.20,469.22 C1037.47,467.39 1041.73,465.33 1046.00,463.50 C1050.27,461.67 1054.53,459.96 1058.80,458.25 C1063.07,456.54 1067.33,454.75 1071.60,453.24 C1075.87,451.73 1080.13,450.50 1084.40,449.19 C1088.67,447.88 1092.93,446.25 1097.20,445.37 C1101.47,444.50 1105.73,443.94 1110.00,443.94 C1114.27,443.94 1118.53,444.18 1122.80,444.42 C1127.07,444.66 1131.33,445.13 1135.60,445.37 C1139.87,445.61 1144.13,445.69 1148.40,445.85 C1152.67,446.01 1156.93,446.33 1161.20,446.33 C1165.47,446.33 1169.73,446.33 1174.00,446.33 C1178.27,446.33 1182.53,446.33 1186.80,446.33 C1191.07,446.33 1195.33,446.33 1199.60,446.33 C1203.87,446.33 1208.13,446.33 1212.40,446.33 C1216.67,446.33 1220.93,446.33 1225.20,446.33 C1229.47,446.33 1233.73,446.33 1238.00,446.33 C1242.27,446.33 1246.53,446.33 1250.80,446.33" fill="none" stroke="#9bbb59" stroke-width="1.8" stroke-linejoin="round" stroke-linecap="round" />
<path d="M956.40,510.01 C960.67,505.40 964.93,500.35 969.20,496.17 C973.47,492.00 977.73,488.06 982.00,484.96 C986.27,481.86 990.53,479.64 994.80,477.57 C999.07,475.50 1003.33,474.19 1007.60,472.56 C1011.87,470.93 1016.13,469.38 1020.40,467.79 C1024.67,466.20 1028.93,464.57 1033.20,463.02 C1037.47,461.47 1041.73,459.96 1046.00,458.49 C1050.27,457.02 1054.53,455.63 1058.80,454.20 C1063.07,452.77 1067.33,451.30 1071.60,449.90 C1075.87,448.51 1080.13,447.24 1084.40,445.85 C1088.67,444.46 1092.93,442.95 1097.20,441.56 C1101.47,440.17 1105.73,438.62 1110.00,437.50 C1114.27,436.39 1118.53,435.55 1122.80,434.88 C1127.07,434.20 1131.33,433.81 1135.60,433.45 C1139.87,433.09 1144.13,432.89 1148.40,432.73 C1152.67,432.57 1156.93,432.49 1161.20,432.49 C1165.47,432.49 1169.73,432.49 1174.00,432.49 C1178.27,432.49 1182.53,432.49 1186.80,432.49 C1191.07,432.49 1195.33,432.49 1199.60,432.49 C1203.87,432.49 1208.13,432.49 1212.40,432.49 C1216.67,432.49 1220.93,432.49 1225.20,432.49 C1229.47,432.49 1233.73,432.49 1238.00,432.49 C1242.27,432.49 1246.53,432.65 1250.80,432.73" fill="none" stroke="#e8874a" stroke-width="1.8" stroke-linejoin="round" stroke-linecap="round" />
<path d="M956.40,520.02 C960.67,513.35 964.93,505.83 969.20,499.99 C973.47,494.15 977.73,489.34 982.00,484.96 C986.27,480.59 990.53,476.42 994.80,473.75 C999.07,471.09 1003.33,470.53 1007.60,468.98 C1011.87,467.43 1016.13,465.92 1020.40,464.45 C1024.67,462.98 1028.93,461.59 1033.20,460.16 C1037.47,458.73 1041.73,457.22 1046.00,455.87 C1050.27,454.52 1054.53,453.32 1058.80,452.05 C1063.07,450.78 1067.33,449.43 1071.60,448.24 C1075.87,447.04 1080.13,446.01 1084.40,444.90 C1088.67,443.78 1092.93,442.51 1097.20,441.56 C1101.47,440.60 1105.73,439.73 1110.00,439.17 C1114.27,438.62 1118.53,438.42 1122.80,438.22 C1127.07,438.02 1131.33,437.98 1135.60,437.98 C1139.87,437.98 1144.13,437.98 1148.40,437.98 C1152.67,437.98 1156.93,437.98 1161.20,437.98 C1165.47,437.98 1169.73,437.98 1174.00,437.98 C1178.27,437.98 1182.53,437.98 1186.80,437.98 C1191.07,437.98 1195.33,437.98 1199.60,437.98 C1203.87,437.98 1208.13,437.98 1212.40,437.98 C1216.67,437.98 1220.93,437.98 1225.20,437.98 C1229.47,437.98 1233.73,437.98 1238.00,437.98 C1242.27,437.98 1246.53,437.98 1250.80,437.98" fill="none" stroke="#843c39" stroke-width="1.8" stroke-linejoin="round" stroke-linecap="round" />
<path d="M956.40,541.25 C960.67,534.97 964.93,529.29 969.20,522.41 C973.47,515.53 977.73,505.59 982.00,499.99 C986.27,494.38 990.53,491.84 994.80,488.78 C999.07,485.72 1003.33,484.01 1007.60,481.62 C1011.87,479.24 1016.13,476.86 1020.40,474.47 C1024.67,472.09 1028.93,469.50 1033.20,467.31 C1037.47,465.13 1041.73,463.26 1046.00,461.35 C1050.27,459.44 1054.53,457.58 1058.80,455.87 C1063.07,454.16 1067.33,452.57 1071.60,451.10 C1075.87,449.63 1080.13,448.31 1084.40,447.04 C1088.67,445.77 1092.93,444.16 1097.20,443.47 C1101.47,442.77 1105.73,442.90 1110.00,442.75 C1114.27,442.59 1118.53,442.51 1122.80,442.51 C1127.07,442.51 1131.33,442.67 1135.60,442.75 C1139.87,442.83 1144.13,442.99 1148.40,442.99 C1152.67,442.99 1156.93,442.99 1161.20,442.99 C1165.47,442.99 1169.73,442.99 1174.00,442.99 C1178.27,442.99 1182.53,442.99 1186.80,442.99 C1191.07,442.99 1195.33,442.99 1199.60,442.99 C1203.87,442.99 1208.13,442.99 1212.40,442.99 C1216.67,442.99 1220.93,442.99 1225.20,442.99 C1229.47,442.99 1233.73,442.99 1238.00,442.99 C1242.27,442.99 1246.53,442.99 1250.80,442.99" fill="none" stroke="#000000" stroke-width="2.2" stroke-linejoin="round" stroke-linecap="round" />
<text x="0.00" y="0.00" font-size="11.5" fill="#595959" text-anchor="end" font-weight="normal" font-family='"Liberation Sans","Noto Sans CJK SC",sans-serif' transform="translate(948.10,559) rotate(-45)">4-01</text>
<text x="0.00" y="0.00" font-size="11.5" fill="#595959" text-anchor="end" font-weight="normal" font-family='"Liberation Sans","Noto Sans CJK SC",sans-serif' transform="translate(973.70,559) rotate(-45)">5-01</text>
<text x="0.00" y="0.00" font-size="11.5" fill="#595959" text-anchor="end" font-weight="normal" font-family='"Liberation Sans","Noto Sans CJK SC",sans-serif' transform="translate(999.30,559) rotate(-45)">6-01</text>
<text x="0.00" y="0.00" font-size="11.5" fill="#595959" text-anchor="end" font-weight="normal" font-family='"Liberation Sans","Noto Sans CJK SC",sans-serif' transform="translate(1024.90,559) rotate(-45)">7-01</text>
<text x="0.00" y="0.00" font-size="11.5" fill="#595959" text-anchor="end" font-weight="normal" font-family='"Liberation Sans","Noto Sans CJK SC",sans-serif' transform="translate(1050.50,559) rotate(-45)">8-1</text>
<text x="0.00" y="0.00" font-size="11.5" fill="#595959" text-anchor="end" font-weight="normal" font-family='"Liberation Sans","Noto Sans CJK SC",sans-serif' transform="translate(1076.10,559) rotate(-45)">9-01</text>
<text x="0.00" y="0.00" font-size="11.5" fill="#595959" text-anchor="end" font-weight="normal" font-family='"Liberation Sans","Noto Sans CJK SC",sans-serif' transform="translate(1101.70,559) rotate(-45)">10-01</text>
<text x="0.00" y="0.00" font-size="11.5" fill="#595959" text-anchor="end" font-weight="normal" font-family='"Liberation Sans","Noto Sans CJK SC",sans-serif' transform="translate(1127.30,559) rotate(-45)">11-01</text>
<text x="0.00" y="0.00" font-size="11.5" fill="#595959" text-anchor="end" font-weight="normal" font-family='"Liberation Sans","Noto Sans CJK SC",sans-serif' transform="translate(1152.90,559) rotate(-45)">12-1</text>
<text x="0.00" y="0.00" font-size="11.5" fill="#595959" text-anchor="end" font-weight="normal" font-family='"Liberation Sans","Noto Sans CJK SC",sans-serif' transform="translate(1178.50,559) rotate(-45)">1-01</text>
<text x="0.00" y="0.00" font-size="11.5" fill="#595959" text-anchor="end" font-weight="normal" font-family='"Liberation Sans","Noto Sans CJK SC",sans-serif' transform="translate(1204.10,559) rotate(-45)">2-01</text>
<text x="0.00" y="0.00" font-size="11.5" fill="#595959" text-anchor="end" font-weight="normal" font-family='"Liberation Sans","Noto Sans CJK SC",sans-serif' transform="translate(1229.70,559) rotate(-45)">3-01</text>
<text x="0.00" y="0.00" font-size="11.5" fill="#595959" text-anchor="end" font-weight="normal" font-family='"Liberation Sans","Noto Sans CJK SC",sans-serif' transform="translate(1255.30,559) rotate(-45)">4-01</text>
<rect x="948.4" y="602.2" width="24.5" height="7" fill="#2e3f66"/>
<text x="975.90" y="609.70" font-size="11.5" fill="#404040" text-anchor="start" font-weight="normal" font-family='"Liberation Sans","Noto Sans CJK SC",sans-serif' >2024/25</text>
<rect x="1018.9" y="602.2" width="24.5" height="7" fill="#c0262e"/>
<text x="1046.40" y="609.70" font-size="11.5" fill="#404040" text-anchor="start" font-weight="normal" font-family='"Liberation Sans","Noto Sans CJK SC",sans-serif' >2025/26</text>
<line x1="1088.7" y1="605.7" x2="1112.2" y2="605.7" stroke="#7f7f7f" stroke-width="2.4" stroke-linecap="round"/>
<text x="1115.70" y="609.70" font-size="11.5" fill="#404040" text-anchor="start" font-weight="normal" font-family='"Liberation Sans","Noto Sans CJK SC",sans-serif' >2018/19</text>
<line x1="1159.6" y1="605.7" x2="1183.1" y2="605.7" stroke="#a493c9" stroke-width="2.4" stroke-linecap="round"/>
<text x="1186.60" y="609.70" font-size="11.5" fill="#404040" text-anchor="start" font-weight="normal" font-family='"Liberation Sans","Noto Sans CJK SC",sans-serif' >2019/20</text>
<line x1="948.9" y1="631.9" x2="972.4" y2="631.9" stroke="#e8874a" stroke-width="2.4" stroke-linecap="round"/>
<text x="975.90" y="635.90" font-size="11.5" fill="#404040" text-anchor="start" font-weight="normal" font-family='"Liberation Sans","Noto Sans CJK SC",sans-serif' >2020/21</text>
<line x1="1019.4" y1="631.9" x2="1042.9" y2="631.9" stroke="#843c39" stroke-width="2.4" stroke-linecap="round"/>
<text x="1046.40" y="635.90" font-size="11.5" fill="#404040" text-anchor="start" font-weight="normal" font-family='"Liberation Sans","Noto Sans CJK SC",sans-serif' >2021/22</text>
<line x1="1088.7" y1="631.9" x2="1112.2" y2="631.9" stroke="#000000" stroke-width="2.4" stroke-linecap="round"/>
<text x="1115.70" y="635.90" font-size="11.5" fill="#404040" text-anchor="start" font-weight="normal" font-family='"Liberation Sans","Noto Sans CJK SC",sans-serif' >2022/23</text>
<line x1="1159.6" y1="631.9" x2="1183.1" y2="631.9" stroke="#9bbb59" stroke-width="2.4" stroke-linecap="round"/>
<text x="1186.60" y="635.90" font-size="11.5" fill="#404040" text-anchor="start" font-weight="normal" font-family='"Liberation Sans","Noto Sans CJK SC",sans-serif' >2023/24</text>
<text x="189.00" y="410.50" font-size="13" fill="#595959" text-anchor="start" font-weight="bold" font-family='"Liberation Sans","Noto Sans CJK SC",sans-serif' textLength="126" lengthAdjust="spacingAndGlyphs">巴西糖产量及出口</text>
<text x="61.00" y="590.20" font-size="8.6" fill="#595959" text-anchor="end" font-weight="normal" font-family='"Liberation Sans","Noto Sans CJK SC",sans-serif' transform="translate(61,0) scale(1.4,1) translate(-61,0)" letter-spacing="0.1">0</text>
<text x="61.00" y="574.19" font-size="8.6" fill="#595959" text-anchor="end" font-weight="normal" font-family='"Liberation Sans","Noto Sans CJK SC",sans-serif' transform="translate(61,0) scale(1.4,1) translate(-61,0)" letter-spacing="0.1">500</text>
<text x="61.00" y="558.18" font-size="8.6" fill="#595959" text-anchor="end" font-weight="normal" font-family='"Liberation Sans","Noto Sans CJK SC",sans-serif' transform="translate(61,0) scale(1.4,1) translate(-61,0)" letter-spacing="0.1">1000</text>
<text x="61.00" y="542.17" font-size="8.6" fill="#595959" text-anchor="end" font-weight="normal" font-family='"Liberation Sans","Noto Sans CJK SC",sans-serif' transform="translate(61,0) scale(1.4,1) translate(-61,0)" letter-spacing="0.1">1500</text>
<text x="61.00" y="526.16" font-size="8.6" fill="#595959" text-anchor="end" font-weight="normal" font-family='"Liberation Sans","Noto Sans CJK SC",sans-serif' transform="translate(61,0) scale(1.4,1) translate(-61,0)" letter-spacing="0.1">2000</text>
<text x="61.00" y="510.15" font-size="8.6" fill="#595959" text-anchor="end" font-weight="normal" font-family='"Liberation Sans","Noto Sans CJK SC",sans-serif' transform="translate(61,0) scale(1.4,1) translate(-61,0)" letter-spacing="0.1">2500</text>
<text x="61.00" y="494.14" font-size="8.6" fill="#595959" text-anchor="end" font-weight="normal" font-family='"Liberation Sans","Noto Sans CJK SC",sans-serif' transform="translate(61,0) scale(1.4,1) translate(-61,0)" letter-spacing="0.1">3000</text>
<text x="61.00" y="478.13" font-size="8.6" fill="#595959" text-anchor="end" font-weight="normal" font-family='"Liberation Sans","Noto Sans CJK SC",sans-serif' transform="translate(61,0) scale(1.4,1) translate(-61,0)" letter-spacing="0.1">3500</text>
<text x="61.00" y="462.12" font-size="8.6" fill="#595959" text-anchor="end" font-weight="normal" font-family='"Liberation Sans","Noto Sans CJK SC",sans-serif' transform="translate(61,0) scale(1.4,1) translate(-61,0)" letter-spacing="0.1">4000</text>
<text x="61.00" y="446.11" font-size="8.6" fill="#595959" text-anchor="end" font-weight="normal" font-family='"Liberation Sans","Noto Sans CJK SC",sans-serif' transform="translate(61,0) scale(1.4,1) translate(-61,0)" letter-spacing="0.1">4500</text>
<text x="61.00" y="430.10" font-size="8.6" fill="#595959" text-anchor="end" font-weight="normal" font-family='"Liberation Sans","Noto Sans CJK SC",sans-serif' transform="translate(61,0) scale(1.4,1) translate(-61,0)" letter-spacing="0.1">5000</text>
<line x1="75" y1="587.1" x2="462" y2="587.1" stroke="#d9d9d9" stroke-width="1"/>
<rect x="80.50" y="472.15" width="6.6" height="114.95" fill="#b94b4f"/>
<rect x="88.40" y="507.53" width="5.6" height="79.57" fill="#7f62a0"/>
<text x="0.00" y="0.00" font-size="9.3" fill="#595959" text-anchor="end" font-weight="normal" font-family='"Liberation Sans","Noto Sans CJK SC",sans-serif' transform="translate(90.80,601) scale(1.42,1) rotate(-45)">11/12</text>
<rect x="106.18" y="464.30" width="6.6" height="122.80" fill="#b94b4f"/>
<rect x="114.08" y="501.13" width="5.6" height="85.97" fill="#7f62a0"/>
<text x="0.00" y="0.00" font-size="9.3" fill="#595959" text-anchor="end" font-weight="normal" font-family='"Liberation Sans","Noto Sans CJK SC",sans-serif' transform="translate(116.48,601) scale(1.42,1) rotate(-45)">12/13</text>
<rect x="131.86" y="465.74" width="6.6" height="121.36" fill="#b94b4f"/>
<rect x="139.76" y="501.93" width="5.6" height="85.17" fill="#7f62a0"/>
<text x="0.00" y="0.00" font-size="9.3" fill="#595959" text-anchor="end" font-weight="normal" font-family='"Liberation Sans","Noto Sans CJK SC",sans-serif' transform="translate(142.16,601) scale(1.42,1) rotate(-45)">13/14</text>
<rect x="157.54" y="473.43" width="6.6" height="113.67" fill="#b94b4f"/>
<rect x="165.44" y="508.97" width="5.6" height="78.13" fill="#7f62a0"/>
<text x="0.00" y="0.00" font-size="9.3" fill="#595959" text-anchor="end" font-weight="normal" font-family='"Liberation Sans","Noto Sans CJK SC",sans-serif' transform="translate(167.84,601) scale(1.42,1) rotate(-45)">14/15</text>
<rect x="183.22" y="480.15" width="6.6" height="106.95" fill="#b94b4f"/>
<rect x="191.12" y="508.01" width="5.6" height="79.09" fill="#7f62a0"/>
<text x="0.00" y="0.00" font-size="9.3" fill="#595959" text-anchor="end" font-weight="normal" font-family='"Liberation Sans","Noto Sans CJK SC",sans-serif' transform="translate(193.52,601) scale(1.42,1) rotate(-45)">15/16</text>
<rect x="208.90" y="463.18" width="6.6" height="123.92" fill="#b94b4f"/>
<rect x="216.80" y="496.16" width="5.6" height="90.94" fill="#7f62a0"/>
<text x="0.00" y="0.00" font-size="9.3" fill="#595959" text-anchor="end" font-weight="normal" font-family='"Liberation Sans","Noto Sans CJK SC",sans-serif' transform="translate(219.20,601) scale(1.42,1) rotate(-45)">16/17</text>
<rect x="234.58" y="465.74" width="6.6" height="121.36" fill="#b94b4f"/>
<rect x="242.48" y="497.92" width="5.6" height="89.18" fill="#7f62a0"/>
<text x="0.00" y="0.00" font-size="9.3" fill="#595959" text-anchor="end" font-weight="normal" font-family='"Liberation Sans","Noto Sans CJK SC",sans-serif' transform="translate(244.88,601) scale(1.42,1) rotate(-45)">17/18</text>
<rect x="260.26" y="494.24" width="6.6" height="92.86" fill="#b94b4f"/>
<rect x="268.16" y="523.86" width="5.6" height="63.24" fill="#7f62a0"/>
<text x="0.00" y="0.00" font-size="9.3" fill="#595959" text-anchor="end" font-weight="normal" font-family='"Liberation Sans","Noto Sans CJK SC",sans-serif' transform="translate(270.56,601) scale(1.42,1) rotate(-45)">18/19</text>
<rect x="285.94" y="491.52" width="6.6" height="95.58" fill="#b94b4f"/>
<rect x="293.84" y="526.26" width="5.6" height="60.84" fill="#7f62a0"/>
<text x="0.00" y="0.00" font-size="9.3" fill="#595959" text-anchor="end" font-weight="normal" font-family='"Liberation Sans","Noto Sans CJK SC",sans-serif' transform="translate(296.24,601) scale(1.42,1) rotate(-45)">19/20</text>
<rect x="311.62" y="455.02" width="6.6" height="132.08" fill="#b94b4f"/>
<rect x="319.52" y="483.84" width="5.6" height="103.26" fill="#7f62a0"/>
<text x="0.00" y="0.00" font-size="9.3" fill="#595959" text-anchor="end" font-weight="normal" font-family='"Liberation Sans","Noto Sans CJK SC",sans-serif' transform="translate(321.92,601) scale(1.42,1) rotate(-45)">20/21</text>
<rect x="337.30" y="474.87" width="6.6" height="112.23" fill="#b94b4f"/>
<rect x="345.20" y="504.01" width="5.6" height="83.09" fill="#7f62a0"/>
<text x="0.00" y="0.00" font-size="9.3" fill="#595959" text-anchor="end" font-weight="normal" font-family='"Liberation Sans","Noto Sans CJK SC",sans-serif' transform="translate(347.60,601) scale(1.42,1) rotate(-45)">21/22</text>
<rect x="362.98" y="468.95" width="6.6" height="118.15" fill="#b94b4f"/>
<rect x="370.88" y="498.24" width="5.6" height="88.86" fill="#7f62a0"/>
<text x="0.00" y="0.00" font-size="9.3" fill="#595959" text-anchor="end" font-weight="normal" font-family='"Liberation Sans","Noto Sans CJK SC",sans-serif' transform="translate(373.28,601) scale(1.42,1) rotate(-45)">22/23</text>
<rect x="388.66" y="441.09" width="6.6" height="146.01" fill="#b94b4f"/>
<rect x="396.56" y="473.75" width="5.6" height="113.35" fill="#7f62a0"/>
<text x="0.00" y="0.00" font-size="9.3" fill="#595959" text-anchor="end" font-weight="normal" font-family='"Liberation Sans","Noto Sans CJK SC",sans-serif' transform="translate(398.96,601) scale(1.42,1) rotate(-45)">23/24</text>
<rect x="414.34" y="446.05" width="6.6" height="141.05" fill="#b94b4f"/>
<rect x="422.24" y="474.87" width="5.6" height="112.23" fill="#7f62a0"/>
<text x="0.00" y="0.00" font-size="9.3" fill="#595959" text-anchor="end" font-weight="normal" font-family='"Liberation Sans","Noto Sans CJK SC",sans-serif' transform="translate(424.64,601) scale(1.42,1) rotate(-45)">24/25-E</text>
<rect x="440.02" y="448.77" width="6.6" height="138.33" fill="#b94b4f"/>
<rect x="447.92" y="478.39" width="5.6" height="108.71" fill="#7f62a0"/>
<text x="0.00" y="0.00" font-size="9.3" fill="#595959" text-anchor="end" font-weight="normal" font-family='"Liberation Sans","Noto Sans CJK SC",sans-serif' transform="translate(450.32,601) scale(1.42,1) rotate(-45)">25/26-E</text>
<rect x="213" y="624.5" width="5.5" height="5.5" fill="#b94b4f"/>
<text x="222.00" y="632.00" font-size="11.5" fill="#595959" text-anchor="start" font-weight="normal" font-family='"Liberation Sans","Noto Sans CJK SC",sans-serif' letter-spacing="1.5">产量</text>
<rect x="259.5" y="624.5" width="5.5" height="5.5" fill="#7f62a0"/>
<text x="268.00" y="632.00" font-size="11.5" fill="#595959" text-anchor="start" font-weight="normal" font-family='"Liberation Sans","Noto Sans CJK SC",sans-serif' letter-spacing="1.5">出口</text>
<rect x="501.5" y="107.5" width="395.8" height="266.7" fill="none" stroke="#3d3d3d" stroke-width="1.3"/>
<rect x="897.3" y="107.5" width="378" height="267.5" fill="none" stroke="#3d3d3d" stroke-width="1.3"/>
<rect x="475.4" y="374.2" width="421.9" height="281" fill="none" stroke="#3d3d3d" stroke-width="1.3"/>
<rect x="897.3" y="375" width="377.4" height="277.4" fill="none" stroke="#3d3d3d" stroke-width="1.3"/>
<g fill="#a3a3a3">
<ellipse cx="769.5" cy="663.5" rx="15.5" ry="14"/>
<path d="M757,673 L756,682 L765,676 Z"/>
</g>
<g fill="#a3a3a3" stroke="#ffffff" stroke-width="1.5"><ellipse cx="786.5" cy="674" rx="14" ry="12"/></g>
<path d="M792,684 L797,688.5 L796,681 Z" fill="#a3a3a3"/>
<g fill="#ffffff"><circle cx="764" cy="658.5" r="2.4"/><circle cx="775" cy="658.5" r="2.4"/><circle cx="781.9" cy="670" r="2"/><circle cx="790.8" cy="670" r="2"/></g>
<text x="811.00" y="680.00" font-size="33.5" fill="#a3a3a3" text-anchor="start" font-weight="normal" font-family='"Liberation Sans","Noto Sans CJK SC",sans-serif' textLength="102.5" lengthAdjust="spacingAndGlyphs">公众号</text>
<text x="932.00" y="680.00" font-size="33.5" fill="#a3a3a3" text-anchor="middle" font-weight="normal" font-family='"Liberation Sans","Noto Sans CJK SC",sans-serif' >·</text>
<text x="953.00" y="680.00" font-size="33.5" fill="#a3a3a3" text-anchor="start" font-weight="normal" font-family='"Liberation Sans","Noto Sans CJK SC",sans-serif' textLength="285.5" lengthAdjust="spacingAndGlyphs">银河农产品与航运</text>
<rect x="328" y="660.2" width="889" height="4.3" fill="#9a161c"/>
<text x="1092.50" y="693.70" font-size="9.5" fill="#555555" text-anchor="start" font-weight="bold" font-family='"Liberation Serif",serif' textLength="68" lengthAdjust="spacingAndGlyphs">GALAXYFUTURES</text>
<text x="1203.00" y="696.00" font-size="21" fill="#000000" text-anchor="start" font-weight="normal" font-family='"Liberation Sans","Noto Sans CJK SC",sans-serif' >6</text>
</svg>
<h1><span style="display:inline-block;transform:translateY(-1.2px) scale(1,1.09);transform-origin:50% 80%">2.2</span>本榨季巴西增产幅度不及预期</h1>
<div class="txt" style="top:118px">
<div><span class="m">2025/26</span>榨季截至<span class="m">1</span>月下半月，巴西中南部地区累计入榨量为</div>
<div><span class="m">60164.4</span>万吨，较去年同期的<span class="m">61493</span>万吨减少<span class="m">1328.6</span>万吨，同比降幅</div>
<div>达<span class="m">2.16%</span>；甘蔗<span class="m">ATR</span>为<span class="m">138.34kg/</span>吨，较去年同期的<span class="m">141.45kg/</span>吨减少</div>
<div><span class="m">3.11kg/</span>吨；累计制糖比为<span class="m">50.74%</span>，较去年同期的<span class="m">48.14%</span>增加<span class="m">2.6%</span>；</div>
<div>累计产乙醇<span class="m">317.06</span>亿升，较去年同期的<span class="m">332.5</span>亿升减少<span class="m">15.44</span>亿升，</div>
<div>同比降幅达<span class="m">4.64%</span>；累计产糖量为<span class="m">4024</span>万吨，较去年同期的<span class="m">3989.9</span></div>
<div>万吨增加<span class="m">34.1</span>万吨，同比增幅达<span class="m">0.86%</span>。</div>
</div>
<div class="txt" style="top:259px">
<div><b><span class="m">2025/26</span>榨季增产：</b>巴西本榨季增产量可能仅<span class="m">30-40</span>万吨，不及之前</div>
<div>市场预期的<span class="m">100</span>万吨增幅。</div>
</div>
<div class="foot" style="top:675px">银河期货高级分析师刘倩楠投资咨询资格：Z0014935</div>
<div class="foot" style="top:691.5px">仅供参考，不构成投资建议，期市有风险，入市需谨慎</div>
<div class="src">数据来源：UNICA，cepea，银河期货</div>
</body></html>
